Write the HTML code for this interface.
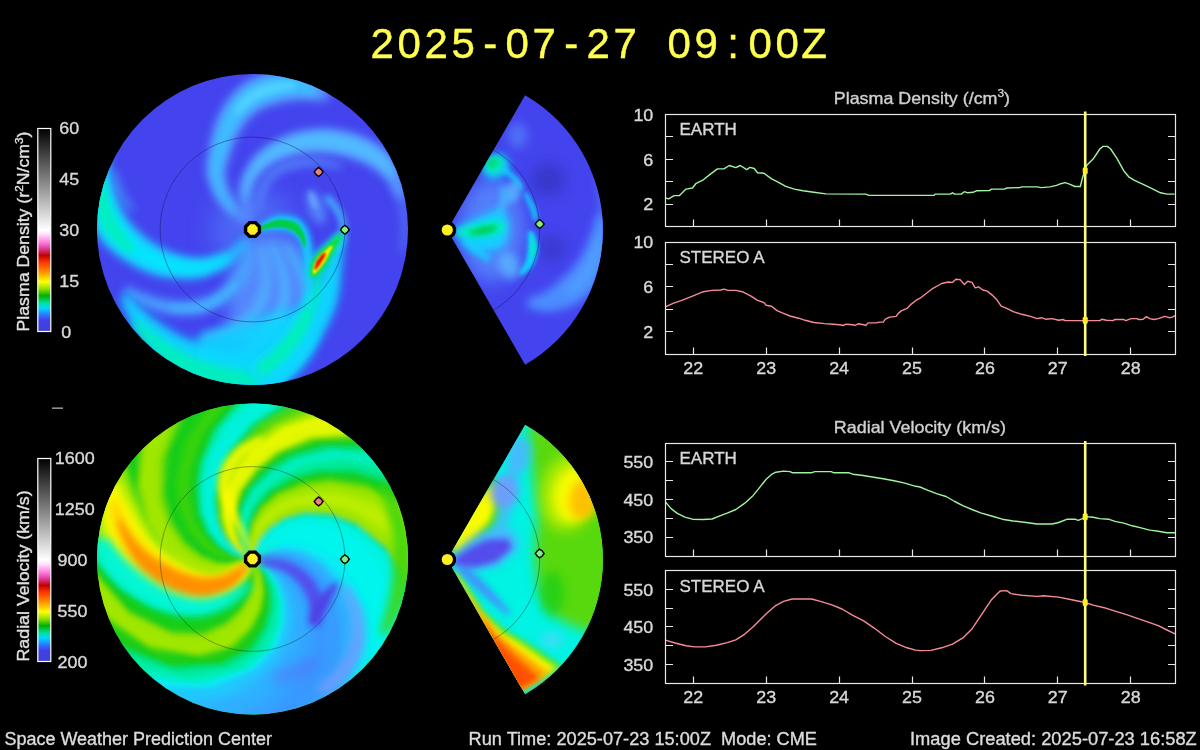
<!DOCTYPE html>
<html><head><meta charset="utf-8"><title>WSA-Enlil Solar Wind Prediction</title>
<style>html,body{margin:0;padding:0;background:#000;}body{width:1200px;height:750px;overflow:hidden;}svg{display:block;}text{font-family:"Liberation Sans", sans-serif;stroke-width:0.35px;opacity:0.999;}.ttl text{stroke-width:0.45px;}</style>
</head><body>
<svg width="1200" height="750" viewBox="0 0 1200 750">
<rect width="1200" height="750" fill="#000"/>
<defs>
<linearGradient id="cb" x1="0" y1="1" x2="0" y2="0">
<stop offset="0.0%" stop-color="#4040d8"/>
<stop offset="5.4%" stop-color="#4040e8"/>
<stop offset="8.0%" stop-color="#3070ff"/>
<stop offset="11.5%" stop-color="#00d8ff"/>
<stop offset="14.0%" stop-color="#00e0a0"/>
<stop offset="17.6%" stop-color="#00b000"/>
<stop offset="21.0%" stop-color="#90e000"/>
<stop offset="24.5%" stop-color="#ffff00"/>
<stop offset="29.4%" stop-color="#ff9000"/>
<stop offset="34.0%" stop-color="#ff3800"/>
<stop offset="37.5%" stop-color="#c00000"/>
<stop offset="41.0%" stop-color="#e040a0"/>
<stop offset="44.0%" stop-color="#ff80e0"/>
<stop offset="48.0%" stop-color="#ffe0ff"/>
<stop offset="50.0%" stop-color="#ffffff"/>
<stop offset="100.0%" stop-color="#000000"/>
</linearGradient>
</defs>
<defs><filter id="b1" filterUnits="userSpaceOnUse" x="80" y="60" width="540" height="670"><feGaussianBlur stdDeviation="1"/></filter><filter id="b2" filterUnits="userSpaceOnUse" x="80" y="60" width="540" height="670"><feGaussianBlur stdDeviation="2"/></filter><filter id="b3" filterUnits="userSpaceOnUse" x="80" y="60" width="540" height="670"><feGaussianBlur stdDeviation="3"/></filter><filter id="b4" filterUnits="userSpaceOnUse" x="80" y="60" width="540" height="670"><feGaussianBlur stdDeviation="4"/></filter><filter id="b5" filterUnits="userSpaceOnUse" x="80" y="60" width="540" height="670"><feGaussianBlur stdDeviation="5"/></filter><filter id="b6" filterUnits="userSpaceOnUse" x="80" y="60" width="540" height="670"><feGaussianBlur stdDeviation="6"/></filter><filter id="b7" filterUnits="userSpaceOnUse" x="80" y="60" width="540" height="670"><feGaussianBlur stdDeviation="7"/></filter><filter id="b8" filterUnits="userSpaceOnUse" x="80" y="60" width="540" height="670"><feGaussianBlur stdDeviation="8"/></filter><filter id="b9" filterUnits="userSpaceOnUse" x="80" y="60" width="540" height="670"><feGaussianBlur stdDeviation="9"/></filter><filter id="b10" filterUnits="userSpaceOnUse" x="80" y="60" width="540" height="670"><feGaussianBlur stdDeviation="10"/></filter><filter id="b11" filterUnits="userSpaceOnUse" x="80" y="60" width="540" height="670"><feGaussianBlur stdDeviation="11"/></filter><filter id="b12" filterUnits="userSpaceOnUse" x="80" y="60" width="540" height="670"><feGaussianBlur stdDeviation="12"/></filter><filter id="b13" filterUnits="userSpaceOnUse" x="80" y="60" width="540" height="670"><feGaussianBlur stdDeviation="13"/></filter><filter id="b14" filterUnits="userSpaceOnUse" x="80" y="60" width="540" height="670"><feGaussianBlur stdDeviation="14"/></filter><filter id="b15" filterUnits="userSpaceOnUse" x="80" y="60" width="540" height="670"><feGaussianBlur stdDeviation="15"/></filter><filter id="b16" filterUnits="userSpaceOnUse" x="80" y="60" width="540" height="670"><feGaussianBlur stdDeviation="16"/></filter></defs><clipPath id="cd"><circle cx="252.5" cy="229.5" r="155.5"/></clipPath><g clip-path="url(#cd)"><rect x="90" y="70" width="330" height="330" fill="#4444ee"/><circle cx="252.5" cy="229.5" r="42" fill="#5a9aff" opacity="0.4" filter="url(#b12)"/><path d="M249.8 220.3 L248.6 218.9 L246.8 217.1 L244.8 215.2 L242.6 213.0 L240.6 210.7 L238.7 208.2 L236.8 205.5 L234.8 202.4 L232.7 199.2 L230.9 195.9 L229.3 192.7 L228.2 189.6 L227.2 186.5 L226.4 183.3 L225.7 180.0 L225.4 176.8 L225.2 173.7 L225.4 170.9 L225.7 168.4 L226.4 165.6 L227.3 162.6 L228.4 159.4 L229.6 156.0 L230.8 152.5 L231.8 149.3 L232.8 146.4 L233.8 143.7 L234.9 141.1 L236.0 138.7 L237.2 136.2 L238.7 133.5 L240.2 130.8 L241.8 128.2 L243.4 125.7 L245.1 123.4 L246.8 121.3 L248.8 119.1 L250.9 117.0 L253.0 115.0 L255.1 113.2 L257.2 111.7 L259.3 110.5 L261.5 109.2 L264.1 108.0 L266.8 106.9 L269.7 105.9 L272.7 105.0 L275.7 104.2 L278.8 103.3 L282.1 102.4 L285.4 101.8 L288.6 101.2 L291.5 100.9 L294.1 100.8 L296.6 100.2 L299.6 99.9 L302.9 99.9 L306.3 100.1 L309.7 100.4 L312.7 100.6 L315.2 100.5 L317.6 100.6 L320.0 100.8 L322.2 101.0 L324.3 101.2 L326.2 101.1 L330.0 95.2 L329.5 93.6 L328.7 91.7 L327.4 89.5 L325.5 87.0 L323.1 84.5 L320.4 82.1 L317.5 80.0 L314.2 77.8 L310.4 75.6 L306.2 73.4 L301.5 71.4 L296.4 69.9 L291.2 69.6 L286.1 69.7 L281.1 70.0 L276.3 70.6 L271.5 71.5 L266.9 72.4 L262.5 74.0 L258.1 75.7 L253.8 77.6 L249.6 79.8 L245.5 82.3 L241.6 85.0 L237.9 88.1 L234.6 91.4 L231.5 94.7 L228.9 98.1 L226.4 101.5 L224.1 104.9 L222.0 108.5 L220.0 112.3 L218.2 116.0 L216.7 119.6 L215.4 123.2 L214.1 126.7 L213.0 130.2 L212.1 133.7 L211.3 137.2 L210.6 140.5 L210.0 143.8 L209.5 147.0 L208.9 150.3 L208.1 153.9 L207.3 157.8 L206.7 162.1 L206.3 166.6 L206.4 171.3 L207.0 175.8 L208.0 180.1 L209.3 184.3 L210.8 188.4 L212.6 192.3 L214.7 196.1 L217.1 199.9 L219.9 203.4 L222.8 206.7 L225.7 209.8 L228.6 212.6 L231.4 215.1 L234.3 217.4 L237.4 219.4 L240.3 221.2 L242.9 222.6 L245.2 223.6 L246.8 224.3Z" fill="#5a9aff" opacity="0.97" filter="url(#b5)"/><path d="M236.6 210.4 L235.2 208.2 L233.2 205.3 L230.8 201.9 L228.3 198.3 L226.1 194.7 L224.5 191.3 L223.4 188.0 L222.4 184.6 L221.6 181.1 L221.1 177.6 L220.8 174.2 L220.9 171.0 L221.1 168.0 L221.8 164.8 L222.7 161.5 L223.7 158.2 L224.9 154.7 L225.9 151.3 L226.9 148.1 L227.9 145.1 L228.8 142.2 L229.8 139.5 L230.9 136.8 L232.2 134.1 L233.6 131.3 L235.2 128.4 L236.9 125.7 L238.6 123.0 L240.4 120.5 L242.4 118.1 L244.5 115.7 L246.7 113.4 L249.0 111.2 L251.3 109.2 L253.7 107.5 L256.1 105.9 L258.7 104.4 L261.5 103.0 L264.5 101.6 L267.6 100.4 L270.9 99.4 L274.1 98.5 L277.5 97.4 L281.0 96.4 L284.5 95.6 L288.1 94.9 L291.5 94.5 L294.5 94.3 L297.6 94.0 L301.3 94.1 L305.3 94.6 L309.1 95.1 L312.6 95.5 L315.2 95.6 L318.0 87.1 L316.0 85.6 L313.1 83.8 L309.5 81.7 L305.3 79.7 L300.7 77.8 L296.0 76.4 L291.2 76.0 L286.6 76.0 L282.0 76.2 L277.4 76.7 L272.9 77.4 L268.5 78.2 L264.4 79.6 L260.2 81.1 L256.2 82.9 L252.2 84.9 L248.4 87.1 L244.7 89.5 L241.4 92.4 L238.3 95.4 L235.5 98.5 L233.0 101.7 L230.7 104.9 L228.6 108.1 L226.6 111.5 L224.8 115.0 L223.1 118.5 L221.7 122.0 L220.4 125.4 L219.2 128.8 L218.1 132.1 L217.1 135.4 L216.3 138.6 L215.6 141.8 L215.0 145.0 L214.3 148.3 L213.6 151.6 L212.8 155.2 L212.0 159.0 L211.3 162.9 L210.8 167.0 L210.9 171.2 L211.4 175.3 L212.3 179.3 L213.4 183.2 L214.8 187.1 L216.4 190.8 L218.3 194.4 L220.6 198.1 L223.4 201.8 L226.4 205.3 L229.3 208.5 L231.7 211.1 L233.5 212.9Z" fill="#38c4ff" opacity="0.90" filter="url(#b4)"/><path d="M237.7 115.1 L239.6 113.5 L241.9 111.3 L244.6 108.7 L247.5 106.0 L250.5 103.6 L253.3 101.8 L256.1 100.0 L259.1 98.4 L262.3 96.8 L265.7 95.4 L269.2 94.2 L272.6 93.2 L276.3 92.0 L280.5 91.1 L285.0 90.2 L289.2 89.6 L292.9 88.9 L295.5 88.3 L294.9 82.4 L292.3 82.3 L288.6 82.2 L284.2 82.3 L279.4 82.5 L274.6 82.9 L270.1 83.5 L266.0 84.7 L262.1 86.1 L258.3 87.7 L254.6 89.5 L251.0 91.4 L247.5 93.7 L244.3 96.6 L241.4 99.9 L238.7 103.3 L236.4 106.5 L234.5 109.2 L233.3 111.1Z" fill="#60e0ff" opacity="0.60" filter="url(#b3)"/><path d="M253.2 220.3 L252.8 217.6 L251.9 214.0 L250.9 209.8 L250.0 205.5 L249.4 201.3 L249.4 197.8 L249.8 194.6 L250.5 191.5 L251.4 188.4 L252.6 185.4 L254.1 182.5 L255.8 179.7 L257.8 176.9 L260.0 174.3 L262.5 171.7 L265.2 169.3 L268.1 167.1 L271.2 165.1 L274.7 163.1 L278.5 161.1 L282.7 159.3 L287.0 157.7 L291.4 156.3 L295.7 155.2 L300.2 154.3 L304.9 153.6 L309.8 153.2 L314.6 153.0 L319.5 153.0 L324.1 153.3 L328.8 153.7 L333.7 154.3 L338.7 155.2 L343.5 156.3 L348.2 157.6 L352.5 159.0 L356.5 160.3 L360.3 161.8 L364.0 163.5 L367.5 165.3 L370.8 167.2 L373.7 169.0 L376.3 170.6 L378.6 172.2 L380.7 173.9 L382.7 175.9 L384.8 178.1 L386.7 180.5 L388.8 183.2 L390.9 186.6 L393.0 190.3 L394.9 194.0 L396.6 197.1 L398.1 199.3 L405.7 196.7 L405.5 194.1 L405.0 190.6 L404.3 186.4 L403.4 181.8 L402.2 177.2 L400.8 172.9 L399.2 169.2 L397.6 165.7 L395.6 162.2 L393.3 158.7 L390.6 155.2 L387.4 151.9 L383.8 148.8 L379.9 145.9 L375.6 143.0 L370.9 140.3 L366.0 137.7 L360.9 135.4 L355.4 133.7 L349.7 132.1 L343.7 130.7 L337.6 129.6 L331.4 128.8 L325.2 128.3 L319.1 128.5 L313.0 129.0 L306.9 129.9 L301.0 131.0 L295.2 132.4 L289.6 134.1 L284.2 136.2 L278.9 138.7 L273.8 141.4 L269.0 144.3 L264.5 147.4 L260.4 150.7 L256.7 154.3 L253.4 158.0 L250.6 161.8 L248.1 165.8 L246.0 169.7 L244.2 173.7 L242.7 177.6 L241.6 181.7 L240.7 185.8 L240.3 189.9 L240.1 194.0 L240.4 198.2 L241.2 202.7 L242.6 207.3 L244.2 211.9 L245.9 216.0 L247.4 219.4 L248.5 221.8Z" fill="#5a9aff" opacity="0.97" filter="url(#b5)"/><path d="M246.8 198.4 L247.5 196.0 L248.3 192.8 L249.2 189.0 L250.2 185.1 L251.5 181.4 L253.1 178.2 L255.1 175.3 L257.3 172.3 L259.8 169.5 L262.6 166.8 L265.5 164.2 L268.8 161.9 L272.5 159.7 L276.5 157.7 L280.9 155.7 L285.4 154.0 L290.0 152.5 L294.6 151.4 L299.3 150.4 L304.2 149.5 L309.2 149.0 L314.3 148.6 L319.4 148.6 L324.3 148.8 L329.3 149.1 L334.4 149.7 L339.6 150.6 L344.7 151.6 L349.6 152.9 L354.2 154.3 L358.4 155.7 L362.5 157.3 L366.5 159.1 L370.2 161.1 L373.7 163.1 L376.7 165.1 L379.6 167.0 L382.4 169.4 L385.0 172.1 L387.5 174.6 L389.6 176.9 L391.4 178.4 L396.2 174.9 L395.3 172.9 L394.0 170.1 L392.3 166.7 L390.1 163.1 L387.5 159.3 L384.4 155.8 L380.9 152.9 L377.2 150.1 L373.1 147.3 L368.7 144.7 L364.1 142.3 L359.2 140.2 L354.0 138.4 L348.5 136.8 L342.7 135.4 L336.8 134.2 L330.9 133.3 L325.0 132.8 L319.1 132.9 L313.3 133.4 L307.4 134.1 L301.7 135.1 L296.1 136.4 L290.7 137.9 L285.5 140.0 L280.4 142.4 L275.5 145.0 L270.9 147.8 L266.7 150.8 L262.8 153.9 L259.2 157.1 L256.1 160.5 L253.3 164.1 L250.8 167.7 L248.7 171.4 L246.9 175.1 L245.4 179.3 L244.4 183.7 L243.8 188.0 L243.3 192.0 L243.1 195.3 L242.9 197.6Z" fill="#50c4ff" opacity="0.85" filter="url(#b4)"/><path d="M390.1 178.2 L390.9 180.6 L392.1 183.8 L393.5 187.4 L394.9 191.4 L396.1 195.4 L397.0 199.2 L398.0 202.9 L398.9 206.8 L399.6 210.8 L400.2 214.9 L400.6 219.2 L400.9 223.6 L401.1 228.5 L401.0 234.1 L400.8 239.8 L400.5 245.3 L400.3 249.9 L400.3 253.3 L404.3 253.7 L405.0 250.4 L405.8 245.9 L406.8 240.4 L407.7 234.6 L408.4 228.9 L408.9 223.6 L408.9 218.9 L408.8 214.2 L408.5 209.7 L408.1 205.3 L407.5 201.0 L406.7 196.8 L405.3 192.5 L403.6 188.1 L401.8 184.0 L400.1 180.3 L398.6 177.3 L397.5 175.1Z" fill="#5a9aff" opacity="0.45" filter="url(#b4)"/><path d="M259.2 213.3 L259.9 210.5 L260.7 206.7 L261.7 202.3 L262.8 197.7 L264.1 193.5 L265.6 190.0 L267.3 187.0 L269.2 184.2 L271.3 181.6 L273.6 179.2 L276.0 177.1 L278.6 175.2 L281.3 173.6 L284.5 172.1 L287.9 170.8 L291.5 169.6 L295.2 168.7 L298.7 167.8 L302.1 167.1 L305.3 166.6 L308.6 166.3 L312.0 166.1 L315.4 166.1 L318.8 166.1 L322.6 166.2 L326.8 166.6 L331.1 167.1 L335.2 167.7 L338.8 168.2 L341.3 168.4 L342.2 164.5 L339.8 163.6 L336.4 162.5 L332.4 161.3 L328.0 160.1 L323.6 159.0 L319.4 158.2 L315.6 157.9 L311.9 157.8 L308.2 157.8 L304.4 158.0 L300.7 158.4 L296.9 159.0 L293.0 159.9 L289.0 161.0 L285.0 162.3 L280.9 163.8 L277.0 165.6 L273.5 167.9 L270.3 170.5 L267.5 173.4 L265.0 176.6 L262.8 179.9 L260.9 183.5 L259.2 187.2 L257.9 191.6 L256.9 196.5 L256.2 201.4 L255.8 206.0 L255.5 209.9 L255.3 212.6Z" fill="#5a9aff" opacity="0.70" filter="url(#b4)"/><path d="M254.3 238.5 C261.0 238.9 284.8 235.3 294.8 240.7 C304.8 246.0 312.2 259.2 314.0 270.5 C315.8 281.9 312.2 296.8 305.5 308.9 C298.7 321.0 285.9 339.5 273.5 343.1 C261.0 346.6 237.9 342.4 230.8 330.3 C223.7 318.2 230.8 280.5 230.8 270.5Z" fill="#5a9aff" opacity="0.80" filter="url(#b8)"/><path d="M247.5 240.5 L246.9 242.8 L246.3 246.0 L245.6 249.7 L244.8 253.6 L243.8 257.3 L242.5 260.6 L241.1 263.8 L239.4 267.1 L237.6 270.4 L235.6 273.5 L233.4 276.4 L231.2 279.0 L228.8 281.6 L226.2 284.2 L223.3 286.6 L220.3 288.9 L217.2 291.0 L214.1 292.9 L211.2 294.6 L208.2 296.1 L205.2 297.3 L202.1 298.4 L198.9 299.3 L195.4 299.9 L191.8 300.5 L187.8 300.9 L183.7 301.1 L179.4 301.1 L175.2 300.8 L171.1 300.4 L166.9 299.8 L162.5 298.9 L158.1 297.8 L153.7 296.5 L149.5 295.2 L145.7 293.8 L142.0 292.7 L138.3 291.2 L134.7 289.7 L131.4 288.2 L128.5 286.9 L126.2 286.1 L123.1 291.2 L124.7 292.8 L127.1 294.9 L130.0 297.3 L133.4 299.9 L137.1 302.5 L141.0 304.8 L145.1 306.7 L149.5 308.5 L154.2 310.2 L159.1 311.8 L164.0 313.2 L168.9 314.3 L173.8 314.9 L178.7 315.4 L183.7 315.6 L188.5 315.5 L193.3 315.3 L197.9 314.7 L202.3 313.9 L206.5 312.7 L210.5 311.3 L214.4 309.7 L218.2 307.9 L221.9 305.8 L225.5 303.3 L229.1 300.6 L232.7 297.7 L236.1 294.5 L239.3 291.2 L242.2 287.7 L244.6 283.8 L246.6 279.7 L248.4 275.6 L249.9 271.5 L251.1 267.4 L252.1 263.4 L252.8 259.1 L253.0 254.6 L253.1 250.3 L252.9 246.4 L252.7 243.2 L252.5 240.9Z" fill="#48a4ff" opacity="0.92" filter="url(#b4)"/><path d="M235.0 281.5 L232.8 283.2 L230.0 285.7 L226.6 288.6 L223.1 291.6 L219.5 294.3 L216.1 296.4 L213.0 298.1 L209.8 299.7 L206.6 301.1 L203.2 302.2 L199.8 303.1 L196.2 303.9 L192.0 304.5 L187.2 304.8 L182.1 304.8 L177.2 304.8 L173.1 304.8 L170.1 304.8 L169.9 309.8 L172.9 310.1 L177.0 310.5 L181.9 310.8 L187.2 311.1 L192.4 311.1 L197.2 310.8 L201.4 310.0 L205.3 308.9 L209.1 307.6 L212.7 306.1 L216.3 304.3 L219.9 302.3 L223.5 299.6 L227.2 296.4 L230.7 293.0 L233.9 289.8 L236.5 287.1 L238.4 285.2Z" fill="#40c8ff" opacity="0.50" filter="url(#b3)"/><path d="M258.7 243.8 L259.1 246.8 L259.8 250.9 L260.6 255.7 L261.3 260.8 L261.9 265.8 L262.0 270.3 L261.9 274.6 L261.6 278.9 L261.1 283.3 L260.4 287.4 L259.4 291.3 L258.1 294.9 L256.6 298.4 L254.8 301.7 L252.8 305.0 L250.5 308.0 L248.0 310.8 L245.4 313.4 L242.8 315.8 L239.9 317.9 L236.8 320.0 L233.4 321.9 L229.8 323.7 L226.2 325.3 L222.2 327.1 L217.5 328.8 L212.6 330.3 L207.8 331.7 L203.7 333.0 L200.8 334.0 L203.2 343.6 L206.2 343.2 L210.4 342.4 L215.4 341.5 L220.8 340.3 L226.2 338.9 L231.1 337.3 L235.4 335.4 L239.5 333.4 L243.5 331.1 L247.4 328.6 L251.1 325.8 L254.6 322.6 L257.6 319.1 L260.4 315.3 L262.9 311.4 L265.1 307.2 L267.0 302.9 L268.6 298.4 L269.6 293.7 L270.3 288.9 L270.6 284.1 L270.6 279.2 L270.4 274.5 L270.0 269.7 L269.1 264.7 L267.9 259.5 L266.4 254.3 L264.9 249.6 L263.6 245.7 L262.6 242.9Z" fill="#50b0ff" opacity="0.88" filter="url(#b4)"/><path d="M269.5 244.1 L270.5 247.2 L272.0 251.3 L273.7 256.2 L275.5 261.4 L277.1 266.4 L278.1 271.0 L279.0 275.3 L279.6 279.7 L280.0 284.0 L280.2 288.2 L280.1 292.3 L279.7 296.1 L279.0 299.9 L277.9 303.6 L276.6 307.2 L275.1 310.8 L273.3 314.4 L271.4 317.8 L269.4 321.3 L267.2 324.8 L264.7 328.2 L262.1 331.6 L259.3 334.7 L256.5 337.7 L253.4 340.7 L249.7 343.8 L245.8 346.8 L242.0 349.6 L238.8 352.1 L236.5 353.9 L242.2 362.1 L244.6 360.6 L248.1 358.4 L252.2 355.8 L256.6 352.8 L260.9 349.6 L264.8 346.3 L268.2 342.8 L271.3 339.2 L274.3 335.4 L277.1 331.5 L279.7 327.5 L282.0 323.5 L283.9 319.4 L285.6 315.1 L287.0 310.8 L288.2 306.4 L289.1 301.8 L289.6 297.2 L289.8 292.5 L289.5 287.7 L289.0 283.0 L288.2 278.3 L287.1 273.6 L285.9 269.0 L284.0 264.1 L281.7 258.9 L279.3 253.8 L276.8 249.2 L274.7 245.3 L273.2 242.5Z" fill="#48b8ff" opacity="0.88" filter="url(#b4)"/><path d="M283.4 244.1 L285.0 247.3 L287.4 251.6 L290.2 256.7 L293.1 262.0 L295.6 267.1 L297.5 271.5 L298.9 275.2 L300.0 278.6 L300.8 281.7 L301.3 284.7 L301.5 287.9 L301.5 291.3 L301.3 295.1 L300.7 299.2 L299.8 303.5 L298.8 307.9 L297.4 312.2 L296.0 316.3 L294.4 320.2 L292.6 324.1 L290.6 327.9 L288.4 331.7 L286.0 335.3 L283.4 338.9 L280.4 342.7 L276.7 346.8 L272.7 350.9 L268.9 354.7 L265.6 358.0 L263.2 360.4 L268.8 366.2 L271.3 364.1 L274.8 361.1 L278.9 357.4 L283.3 353.4 L287.6 349.2 L291.3 345.1 L294.2 341.0 L296.9 336.9 L299.4 332.8 L301.6 328.5 L303.6 324.2 L305.4 319.7 L306.8 315.1 L308.1 310.3 L309.2 305.5 L309.9 300.6 L310.4 295.9 L310.5 291.4 L310.2 287.2 L309.5 283.3 L308.5 279.6 L307.3 276.1 L305.7 272.4 L303.8 268.5 L301.2 264.0 L298.0 259.1 L294.5 254.0 L291.0 249.3 L288.1 245.3 L285.9 242.5Z" fill="#40c4ff" opacity="0.85" filter="url(#b4)"/><path d="M245.2 238.1 L242.8 239.8 L239.8 242.3 L236.4 245.3 L232.7 248.2 L229.0 250.8 L225.4 252.7 L221.7 254.1 L217.5 255.4 L213.1 256.6 L208.6 257.4 L204.3 258.0 L200.3 258.2 L196.7 258.1 L192.9 257.8 L189.0 257.2 L185.0 256.4 L181.1 255.4 L177.3 254.4 L173.9 253.5 L170.9 252.5 L168.1 251.3 L165.4 250.1 L162.6 248.7 L159.8 247.1 L156.8 245.4 L153.8 243.5 L150.7 241.4 L147.6 239.2 L144.7 236.9 L141.9 234.6 L139.2 232.3 L136.7 229.9 L134.4 227.6 L132.4 225.3 L130.6 223.0 L128.9 220.7 L127.2 218.4 L125.5 215.9 L124.0 213.3 L122.5 210.6 L121.2 207.8 L120.0 204.8 L118.5 201.6 L117.1 198.2 L115.9 194.7 L114.7 191.1 L113.8 187.4 L113.0 183.8 L112.0 180.3 L111.1 176.5 L110.4 172.6 L109.8 168.6 L109.5 164.5 L109.2 160.6 L109.1 156.5 L109.4 151.8 L109.9 147.0 L110.5 142.4 L110.9 138.3 L110.9 135.3 L103.3 132.7 L101.4 135.0 L99.2 138.3 L96.7 142.5 L94.1 147.1 L91.7 152.0 L89.6 156.9 L88.0 161.6 L86.6 166.4 L85.4 171.3 L84.4 176.3 L83.7 181.4 L83.2 186.6 L83.4 191.7 L84.0 196.9 L84.7 202.1 L85.7 207.1 L86.8 212.0 L88.2 216.8 L90.0 221.4 L92.1 225.8 L94.3 230.0 L96.8 234.1 L99.4 238.0 L102.3 241.9 L105.6 245.4 L109.1 248.7 L112.6 251.7 L116.2 254.5 L119.8 257.1 L123.4 259.5 L127.3 262.0 L131.3 264.4 L135.4 266.7 L139.7 268.8 L144.0 270.9 L148.2 272.6 L152.4 274.0 L156.5 275.2 L160.6 276.2 L164.8 277.0 L169.0 277.7 L173.3 278.1 L177.8 278.4 L182.5 278.6 L187.4 278.6 L192.6 278.5 L197.9 277.9 L203.2 276.9 L208.4 275.3 L213.4 273.4 L218.4 271.1 L223.2 268.6 L227.7 265.8 L231.9 262.8 L235.8 259.2 L239.5 255.2 L242.6 251.1 L245.3 247.2 L247.4 243.9 L248.8 241.5Z" fill="#20c8ff" opacity="0.97" filter="url(#b5)"/><path d="M227.5 255.0 L224.4 255.8 L220.2 257.2 L215.3 258.8 L210.1 260.3 L205.2 261.5 L200.9 262.1 L196.9 262.2 L192.8 262.0 L188.7 261.4 L184.5 260.7 L180.5 259.8 L176.6 258.9 L173.0 258.0 L169.8 257.0 L166.7 255.9 L163.8 254.7 L160.8 253.3 L157.7 251.7 L154.5 250.0 L151.3 248.0 L148.0 245.9 L144.7 243.7 L141.6 241.4 L138.6 239.0 L135.8 236.7 L133.1 234.3 L130.6 231.9 L128.3 229.5 L126.1 227.0 L124.2 224.4 L122.3 221.8 L120.4 219.1 L118.7 216.3 L117.1 213.3 L115.7 210.2 L114.4 206.9 L112.8 203.5 L111.4 199.9 L110.0 196.1 L108.9 192.2 L107.9 188.3 L107.1 184.5 L106.2 180.5 L105.5 175.8 L105.1 170.9 L104.8 166.2 L104.4 162.1 L103.9 159.1 L94.9 158.4 L93.9 161.2 L92.8 165.1 L91.6 169.9 L90.6 175.1 L89.7 180.6 L89.1 185.9 L89.4 190.9 L89.9 195.8 L90.6 200.7 L91.5 205.5 L92.5 210.2 L93.8 214.7 L95.5 219.0 L97.5 223.1 L99.6 227.1 L101.9 230.9 L104.3 234.6 L107.0 238.1 L110.0 241.4 L113.2 244.5 L116.5 247.4 L119.8 250.1 L123.2 252.7 L126.7 255.1 L130.4 257.5 L134.2 259.9 L138.2 262.2 L142.2 264.3 L146.3 266.3 L150.3 268.1 L154.2 269.5 L158.1 270.7 L162.0 271.7 L165.9 272.5 L169.9 273.2 L174.1 273.7 L178.4 274.0 L183.0 274.3 L187.7 274.4 L192.7 274.3 L197.7 273.9 L202.7 273.0 L207.9 271.3 L213.3 269.1 L218.5 266.7 L223.2 264.2 L227.1 262.1 L229.8 260.5Z" fill="#00e8ff" opacity="0.90" filter="url(#b4)"/><path d="M135.5 248.5 L133.6 245.7 L130.6 242.0 L127.2 237.8 L123.8 233.3 L120.7 228.8 L118.5 224.7 L116.4 220.8 L114.4 216.5 L112.5 212.0 L110.9 207.4 L109.6 202.7 L108.4 198.4 L106.9 194.3 L105.6 189.8 L104.6 185.2 L103.7 180.8 L102.9 177.1 L102.0 174.3 L95.0 174.8 L94.6 177.5 L94.1 181.3 L93.6 185.9 L93.4 191.1 L93.4 196.5 L93.8 201.8 L95.1 206.9 L96.7 212.0 L98.5 217.2 L100.6 222.5 L103.0 227.7 L105.9 232.7 L109.8 237.4 L114.4 241.8 L119.0 245.8 L123.4 249.4 L127.1 252.2 L129.8 254.1Z" fill="#00f0b8" opacity="0.92" filter="url(#b4)"/><path d="M134.7 209.3 L133.3 207.2 L131.3 204.2 L129.0 200.8 L126.7 197.1 L124.6 193.5 L123.1 190.2 L121.6 186.9 L120.3 183.1 L119.2 179.2 L118.2 175.4 L117.4 172.2 L116.7 169.9 L112.8 170.7 L113.0 173.0 L113.3 176.3 L113.8 180.3 L114.5 184.6 L115.4 188.9 L116.7 193.0 L118.8 196.8 L121.4 200.6 L124.1 204.3 L126.8 207.6 L129.0 210.3 L130.6 212.3Z" fill="#40b8ff" opacity="0.60" filter="url(#b4)"/><path d="M120.1 297.6 L121.6 302.2 L124.1 308.3 L127.4 315.5 L131.3 323.2 L135.6 331.0 L140.3 338.2 L145.3 344.4 L150.6 350.4 L156.3 356.4 L162.5 362.1 L169.3 367.7 L176.6 372.9 L184.7 377.0 L193.2 380.7 L202.0 384.0 L211.1 386.9 L220.4 389.4 L230.1 391.2 L240.6 391.7 L251.4 391.3 L261.7 390.4 L271.0 389.3 L278.5 388.3 L283.8 387.6 L281.3 353.7 L275.6 353.8 L267.9 354.1 L259.3 354.5 L250.3 354.7 L241.9 354.4 L234.9 353.5 L228.1 352.5 L220.9 350.9 L213.6 348.9 L206.4 346.5 L199.5 343.8 L193.1 340.9 L186.8 338.6 L180.7 335.8 L174.7 332.6 L168.8 329.1 L162.9 325.2 L157.4 321.3 L151.5 317.2 L145.5 312.2 L139.5 306.7 L133.9 301.4 L129.0 297.0 L125.0 294.1Z" fill="#10d8ff" opacity="0.97" filter="url(#b5)"/><path d="M196.7 337.9 C202.4 336.4 214.4 333.0 230.8 328.6 C247.2 324.1 280.9 308.6 294.8 311.1 C308.7 313.5 316.8 331.0 314.0 343.1 C311.2 355.2 297.3 376.8 277.7 383.6 C258.2 390.4 210.2 383.6 196.7 383.6Z" fill="#10d8ff" opacity="0.90" filter="url(#b6)"/><path d="M132.1 324.2 L135.5 328.9 L140.4 335.2 L146.4 342.6 L153.2 350.4 L160.6 357.9 L168.1 364.5 L176.2 369.4 L184.5 373.7 L193.1 377.6 L201.8 381.0 L210.5 383.8 L219.3 386.3 L228.6 387.3 L238.3 387.6 L247.7 387.4 L256.2 386.9 L263.2 386.4 L268.2 385.9 L268.4 371.9 L263.2 371.4 L256.1 370.9 L248.0 370.4 L239.3 369.7 L231.0 368.5 L223.4 366.7 L215.9 364.9 L208.1 362.6 L200.2 359.9 L192.3 356.7 L184.8 353.2 L177.9 349.4 L170.4 345.3 L162.6 339.9 L154.7 333.9 L147.4 328.1 L141.1 323.2 L136.3 319.9Z" fill="#00f0b8" opacity="0.92" filter="url(#b4)"/><path d="M339.8 233.8 L338.0 236.7 L336.0 240.9 L333.7 245.8 L331.3 251.3 L328.8 256.8 L326.3 262.1 L323.9 267.3 L321.5 272.7 L319.0 278.1 L316.5 283.3 L313.9 288.1 L311.0 292.7 L308.1 297.3 L304.8 302.1 L301.3 306.8 L297.6 311.6 L293.7 316.3 L289.8 320.9 L286.3 325.6 L282.6 330.3 L278.8 334.8 L275.0 339.1 L271.2 343.2 L267.7 346.8 L264.2 350.3 L260.1 354.0 L255.8 357.7 L251.7 361.1 L248.0 364.1 L245.3 366.5 L267.5 394.8 L270.2 392.9 L274.0 390.2 L278.8 386.7 L284.0 382.7 L289.5 378.2 L294.6 373.5 L299.1 368.5 L303.4 363.3 L307.6 358.0 L311.7 352.5 L315.7 347.0 L319.4 341.4 L322.6 335.5 L325.7 329.4 L328.8 323.2 L331.7 316.9 L334.3 310.4 L336.7 303.8 L338.3 297.1 L339.4 290.4 L340.3 283.9 L340.8 277.7 L341.3 271.9 L341.8 266.2 L342.3 260.4 L342.9 254.3 L343.4 248.3 L343.7 242.8 L343.8 238.2 L343.7 234.8Z" fill="#10d8ff" opacity="0.97" filter="url(#b4)"/><path d="M318.4 263.8 L317.2 267.4 L315.8 272.6 L314.1 278.7 L312.3 285.1 L310.4 291.3 L308.4 296.8 L306.4 301.8 L304.3 306.7 L302.0 311.4 L299.6 316.0 L297.0 320.4 L294.3 324.6 L291.6 328.9 L288.6 333.1 L285.4 337.2 L282.1 341.2 L278.7 345.0 L275.4 348.5 L271.9 351.9 L268.0 355.4 L263.9 358.8 L260.0 361.9 L256.7 364.5 L254.2 366.6 L262.8 377.6 L265.3 375.8 L268.7 373.3 L272.9 370.2 L277.4 366.7 L281.9 362.9 L286.1 359.0 L289.8 354.9 L293.3 350.6 L296.9 346.1 L300.2 341.4 L303.4 336.6 L306.4 331.7 L308.8 326.6 L311.1 321.4 L313.0 316.1 L314.8 310.7 L316.5 305.3 L317.9 299.7 L319.1 293.5 L320.2 286.8 L321.0 280.0 L321.7 273.7 L322.1 268.4 L322.4 264.5Z" fill="#00f0b8" opacity="0.90" filter="url(#b3)"/><path d="M259.4 231.1 L261.8 231.0 L265.0 230.6 L268.6 230.0 L272.3 229.5 L275.7 229.4 L278.4 229.7 L280.8 229.8 L283.5 230.1 L286.0 230.6 L288.3 231.3 L290.1 232.1 L291.4 233.0 L292.8 233.5 L294.2 234.3 L295.6 235.5 L297.1 237.2 L298.5 239.2 L299.8 241.6 L300.9 244.3 L301.8 247.5 L302.5 251.0 L303.2 254.8 L303.8 258.7 L304.5 262.4 L304.9 265.9 L305.3 269.3 L305.6 272.7 L305.9 276.1 L306.1 279.6 L306.2 283.3 L306.2 287.5 L306.1 292.3 L305.9 297.3 L305.7 301.9 L305.5 305.9 L305.5 308.8 L311.4 309.1 L311.7 306.3 L312.0 302.3 L312.4 297.7 L312.8 292.7 L313.1 287.8 L313.2 283.4 L313.3 279.5 L313.2 275.8 L313.1 272.2 L313.0 268.7 L312.7 265.2 L312.4 261.6 L312.3 257.8 L312.2 253.9 L312.0 249.8 L311.6 245.8 L311.1 241.8 L310.3 238.1 L309.4 234.6 L308.3 231.3 L306.9 228.1 L305.1 225.0 L302.8 222.0 L299.9 219.4 L296.2 217.7 L292.4 216.5 L288.6 215.8 L284.8 215.5 L281.0 215.5 L277.1 215.8 L273.1 217.2 L269.1 219.0 L265.4 221.0 L262.1 223.1 L259.5 224.9 L257.7 226.4Z" fill="#10d8ff" opacity="0.95" filter="url(#b3)"/><path d="M259.4 230.2 L261.6 229.9 L264.7 229.3 L268.2 228.6 L271.8 228.0 L275.2 227.6 L278.1 227.6 L280.6 227.6 L283.2 227.9 L285.7 228.3 L288.1 228.9 L290.1 229.7 L291.7 230.5 L293.2 231.1 L294.7 232.2 L296.3 233.5 L297.7 235.1 L299.0 236.8 L300.2 238.3 L301.1 239.8 L301.9 241.4 L302.5 243.1 L303.0 244.7 L303.4 246.1 L303.9 247.2 L305.4 247.0 L305.5 245.9 L305.6 244.4 L305.7 242.6 L305.6 240.5 L305.3 238.3 L304.7 236.2 L304.0 234.1 L303.1 231.8 L301.9 229.4 L300.4 227.0 L298.5 224.7 L296.2 222.7 L293.3 221.4 L290.4 220.5 L287.2 219.9 L284.0 219.6 L280.7 219.5 L277.4 219.6 L273.9 220.5 L270.2 221.8 L266.5 223.3 L263.2 224.9 L260.4 226.2 L258.5 227.3Z" fill="#00cc48" opacity="1.00" filter="url(#b1)"/><ellipse cx="316.0" cy="207.0" rx="8.0" ry="18.0" transform="rotate(-20.0 316.0 207.0)" fill="#5aa0ff" opacity="0.70" filter="url(#b4)"/><ellipse cx="313.0" cy="200.0" rx="3.5" ry="10.0" transform="rotate(-20.0 313.0 200.0)" fill="#78bcff" opacity="0.50" filter="url(#b2)"/><path d="M328.0 198.0 C329.7 200.2 335.5 206.7 338.0 211.0 C340.5 215.3 342.3 219.7 343.0 224.0 C343.7 228.3 343.0 233.0 342.0 237.0 C341.0 241.0 337.8 246.2 337.0 248.0" fill="none" stroke="#40d0ff" stroke-width="6.0" stroke-linecap="round" stroke-linejoin="round" opacity="0.85" filter="url(#b3)"/><path d="M314.2 279.9 L315.5 279.0 L316.9 277.8 L318.5 276.3 L320.1 274.7 L321.7 273.3 L323.2 272.1 L324.1 270.9 L325.0 269.7 L325.9 268.6 L326.8 267.4 L327.8 266.2 L328.9 265.0 L329.6 263.5 L330.3 262.1 L331.2 260.6 L332.0 259.0 L332.9 257.5 L333.8 255.9 L334.6 254.4 L335.3 252.9 L336.1 251.4 L336.9 249.8 L337.7 248.2 L338.6 246.6 L339.5 244.8 L340.5 242.9 L341.5 240.9 L342.5 239.0 L343.2 237.4 L343.7 236.1 L338.9 232.4 L337.8 233.1 L336.4 234.3 L334.8 235.6 L333.2 237.1 L331.5 238.5 L329.9 239.8 L328.6 241.0 L327.3 242.1 L325.9 243.3 L324.6 244.4 L323.3 245.6 L321.9 246.7 L320.7 248.0 L319.4 249.3 L318.0 250.6 L316.7 251.9 L315.4 253.3 L314.1 254.7 L313.2 256.3 L312.3 257.9 L311.5 259.5 L310.7 261.1 L309.9 262.8 L309.1 264.7 L308.8 267.0 L308.6 269.4 L308.4 271.8 L308.4 274.1 L308.4 276.0 L308.7 277.4Z" fill="#00e8e0" opacity="1.00" filter="url(#b3)"/><path d="M313.7 277.9 L314.7 277.2 L315.9 276.1 L317.1 274.7 L318.4 273.3 L319.7 272.0 L321.0 270.9 L321.9 269.7 L322.8 268.5 L323.7 267.3 L324.7 266.1 L325.7 264.8 L326.8 263.6 L327.5 262.1 L328.3 260.6 L329.2 259.1 L330.1 257.5 L330.9 255.9 L331.8 254.4 L332.6 252.8 L333.4 251.3 L334.2 249.7 L335.0 248.2 L335.8 246.6 L336.6 245.1 L337.5 243.5 L338.6 241.9 L339.6 240.2 L340.6 238.6 L341.3 237.3 L341.8 236.3 L339.5 234.4 L338.6 235.1 L337.5 236.1 L336.1 237.4 L334.7 238.7 L333.3 240.1 L331.9 241.4 L330.6 242.5 L329.3 243.6 L327.9 244.8 L326.6 245.9 L325.3 247.1 L323.9 248.3 L322.6 249.5 L321.3 250.8 L320.0 252.1 L318.7 253.4 L317.4 254.8 L316.1 256.2 L315.3 257.7 L314.4 259.3 L313.6 260.9 L312.8 262.5 L312.0 264.2 L311.2 265.9 L311.0 267.9 L310.8 270.0 L310.6 272.1 L310.6 274.0 L310.7 275.6 L310.9 276.8Z" fill="#10dc20" opacity="1.00" filter="url(#b2)"/><path d="M314.5 274.2 L315.2 273.5 L316.1 272.6 L317.1 271.4 L318.2 270.2 L319.2 269.0 L320.2 268.0 L321.0 266.9 L321.8 265.7 L322.7 264.6 L323.6 263.4 L324.5 262.2 L325.4 261.1 L326.0 259.8 L326.6 258.5 L327.3 257.3 L327.9 256.0 L328.6 254.7 L329.2 253.5 L329.9 252.3 L330.6 251.0 L331.3 249.7 L332.0 248.5 L332.6 247.4 L332.9 246.6 L331.4 245.4 L330.6 245.8 L329.7 246.6 L328.7 247.4 L327.5 248.4 L326.4 249.4 L325.3 250.4 L324.2 251.4 L323.1 252.3 L322.1 253.3 L321.0 254.4 L319.9 255.4 L318.8 256.5 L318.0 257.8 L317.2 259.1 L316.4 260.4 L315.6 261.8 L314.9 263.1 L314.2 264.5 L313.7 266.2 L313.4 267.9 L313.0 269.5 L312.8 271.0 L312.7 272.3 L312.7 273.3Z" fill="#ffee00" opacity="1.00" filter="url(#b1)"/><path d="M315.7 269.8 L316.3 269.2 L317.0 268.3 L317.8 267.3 L318.6 266.2 L319.4 265.1 L320.2 264.2 L320.8 263.1 L321.5 262.0 L322.2 260.9 L322.9 259.8 L323.6 258.7 L324.2 257.8 L324.6 256.9 L324.9 256.0 L325.2 255.3 L325.4 254.6 L325.6 254.0 L325.7 253.5 L324.5 252.6 L324.1 252.8 L323.5 253.2 L323.0 253.7 L322.3 254.2 L321.6 254.8 L320.9 255.5 L320.2 256.4 L319.5 257.4 L318.7 258.5 L317.9 259.6 L317.1 260.8 L316.3 261.9 L315.9 263.3 L315.4 264.7 L315.0 266.0 L314.7 267.3 L314.5 268.3 L314.4 269.1Z" fill="#e81000" opacity="1.00" filter="url(#b1)"/><circle cx="252.5" cy="229.5" r="92.4" fill="none" stroke="#101050" stroke-width="0.7" opacity="0.6"/></g><polygon points="261.1,233.1 256.1,238.1 248.9,238.1 243.9,233.1 243.9,225.9 248.9,220.9 256.1,220.9 261.1,225.9" fill="#000"/><polygon points="257.7,231.6 254.6,234.7 250.4,234.7 247.3,231.6 247.3,227.4 250.4,224.3 254.6,224.3 257.7,227.4" fill="#ffee20"/><polygon points="350.2,229.7 347.9,232.7 344.9,235.0 341.9,232.7 339.6,229.7 341.9,226.7 344.9,224.4 347.9,226.7" fill="#000"/><polygon points="348.4,229.7 346.9,231.7 344.9,233.2 342.9,231.7 341.4,229.7 342.9,227.7 344.9,226.2 346.9,227.7" fill="#80f080"/><polygon points="323.9,171.9 321.6,174.9 318.6,177.2 315.6,174.9 313.3,171.9 315.6,168.9 318.6,166.6 321.6,168.9" fill="#000"/><polygon points="322.1,171.9 320.6,173.9 318.6,175.4 316.6,173.9 315.1,171.9 316.6,169.9 318.6,168.4 320.6,169.9" fill="#f08078"/>
<clipPath id="cv"><circle cx="252.5" cy="559.0" r="155.5"/></clipPath><g clip-path="url(#cv)"><rect x="90" y="400" width="330" height="330" fill="#20d840"/><g filter="url(#b2)"><path d="M252.5 559.0 L259.5 551.9 L269.6 545.2 L283.3 540.4 L300.7 539.4 L320.9 544.3 L342.5 557.5 L360.8 578.5 L375.7 614.3 L378.4 657.8 L384.6 649.2 L379.1 606.0 L361.8 571.3 L342.2 551.6 L319.8 539.8 L299.3 536.2 L282.0 538.4 L268.7 544.1 L259.0 551.4 L252.5 559.0Z" fill="#00f5ec"/><path d="M252.5 559.0 L259.1 551.5 L268.9 544.3 L282.3 538.8 L299.6 536.9 L320.1 540.8 L342.3 552.8 L361.6 572.8 L378.4 607.8 L383.4 651.1 L389.2 642.2 L381.3 599.3 L362.3 565.6 L341.7 546.9 L318.7 536.3 L298.0 533.8 L280.9 536.9 L267.9 543.3 L258.6 551.1 L252.5 559.0Z" fill="#00f5ec"/><path d="M252.5 559.0 L258.7 551.2 L268.1 543.5 L281.2 537.3 L298.4 534.5 L319.0 537.3 L341.8 548.1 L362.2 567.1 L380.8 601.1 L388.0 644.1 L393.3 634.9 L383.3 592.5 L362.5 559.8 L340.9 542.2 L317.4 532.9 L296.6 531.5 L279.7 535.4 L267.0 542.5 L258.2 550.8 L252.5 559.0Z" fill="#00f5ec"/><path d="M252.5 559.0 L258.3 550.9 L267.3 542.7 L280.0 535.8 L297.0 532.1 L317.8 533.8 L341.1 543.5 L362.5 561.3 L382.8 594.3 L392.3 636.9 L397.1 627.4 L384.8 585.6 L362.4 554.1 L339.9 537.6 L316.0 529.5 L295.1 529.2 L278.5 534.0 L266.1 541.7 L257.7 550.5 L252.5 559.0Z" fill="#00f5ec"/><path d="M252.5 559.0 L257.9 550.6 L266.4 541.9 L278.8 534.4 L295.5 529.8 L316.4 530.4 L340.2 538.8 L362.4 555.6 L384.5 587.5 L396.2 629.5 L400.5 619.8 L386.1 578.7 L362.0 548.3 L338.7 533.1 L314.4 526.2 L293.5 527.0 L277.1 532.7 L265.2 541.0 L257.3 550.2 L252.5 559.0Z" fill="#00f5ec"/><path d="M252.5 559.0 L257.4 550.3 L265.5 541.2 L277.5 533.1 L293.9 527.6 L314.8 527.1 L339.0 534.3 L362.1 549.8 L385.8 580.5 L399.6 621.8 L403.5 612.0 L386.9 571.6 L361.3 542.6 L337.2 528.6 L312.6 523.1 L291.8 524.9 L275.7 531.5 L264.3 540.4 L256.8 550.0 L252.5 559.0Z" fill="#00f4eb"/><path d="M252.5 559.0 L256.9 550.0 L264.5 540.6 L276.1 531.8 L292.2 525.5 L313.1 523.9 L337.6 529.8 L361.5 544.1 L386.7 573.5 L402.7 614.1 L406.0 604.0 L387.4 564.6 L360.3 536.9 L335.5 524.2 L310.6 520.0 L289.9 522.9 L274.2 530.3 L263.3 539.8 L256.3 549.8 L252.5 559.0Z" fill="#00f4e5"/><path d="M252.5 559.0 L256.5 549.8 L263.5 540.0 L274.6 530.6 L290.4 523.4 L311.1 520.8 L336.0 525.4 L360.6 538.4 L387.3 566.5 L405.4 606.1 L408.2 595.9 L387.5 557.5 L359.0 531.3 L333.6 519.9 L308.5 517.0 L288.0 521.0 L272.7 529.2 L262.3 539.3 L255.9 549.6 L252.5 559.0Z" fill="#00f3de"/><path d="M252.5 559.0 L256.0 549.6 L262.5 539.4 L273.1 529.5 L288.5 521.5 L309.1 517.8 L334.1 521.1 L359.3 532.8 L387.5 559.4 L407.7 598.0 L409.7 589.0 L387.3 551.2 L357.4 526.0 L331.4 515.7 L306.1 513.9 L285.8 519.0 L270.9 528.1 L261.0 538.7 L255.3 549.4 L252.5 559.0Z" fill="#00f2d9"/><path d="M252.5 559.0 L255.5 549.4 L261.4 538.9 L271.4 528.4 L286.4 519.6 L306.8 514.8 L332.0 516.8 L357.8 527.3 L387.4 552.7 L409.4 590.4 L410.7 583.2 L386.8 545.4 L355.7 521.0 L329.0 511.6 L303.4 510.9 L283.2 517.0 L268.8 526.9 L259.6 538.2 L254.5 549.2 L252.5 559.0Z" fill="#08d84e"/><path d="M252.5 559.0 L254.7 549.3 L260.0 538.3 L269.3 527.2 L283.9 517.5 L304.1 511.7 L329.7 512.7 L356.2 522.4 L387.0 547.2 L410.4 585.1 L411.8 573.8 L385.8 537.8 L353.5 515.4 L326.4 507.6 L300.5 508.1 L280.5 515.2 L266.6 525.9 L258.1 537.7 L253.8 549.1 L252.5 559.0Z" fill="#97e400"/><path d="M252.5 559.0 L254.0 549.1 L258.5 537.8 L267.2 526.1 L281.2 515.6 L301.3 508.8 L327.1 508.6 L354.1 516.9 L386.1 539.9 L411.5 576.4 L412.4 563.6 L384.3 530.0 L351.0 509.9 L323.6 503.8 L297.6 505.4 L277.9 513.6 L264.5 525.1 L256.7 537.4 L253.2 549.0 L252.5 559.0Z" fill="#a2e700"/><path d="M252.5 559.0 L253.3 549.0 L257.1 537.5 L265.1 525.3 L278.6 514.0 L298.4 506.1 L324.3 504.8 L351.7 511.4 L384.8 532.1 L412.3 566.3 L412.4 553.4 L382.4 522.1 L348.1 504.6 L320.6 500.1 L294.5 503.0 L275.1 512.2 L262.4 524.4 L255.3 537.2 L252.5 549.0 L252.5 559.0Z" fill="#b2eb00"/><path d="M252.5 559.0 L252.7 549.0 L255.7 537.2 L263.0 524.6 L275.9 512.5 L295.3 503.6 L321.4 501.1 L348.9 506.0 L382.9 524.2 L412.5 556.1 L411.6 542.2 L379.8 514.0 L344.8 499.2 L317.4 496.6 L291.3 500.8 L272.4 511.0 L260.4 523.9 L254.0 537.1 L251.9 549.0 L252.5 559.0Z" fill="#bcee00"/><path d="M252.5 559.0 L252.0 549.0 L254.3 537.1 L260.9 524.0 L273.1 511.3 L292.2 501.3 L318.2 497.5 L345.7 500.6 L380.6 516.3 L411.9 545.4 L410.0 530.7 L376.6 505.8 L341.2 494.0 L314.0 493.3 L288.2 498.8 L269.9 510.0 L258.5 523.5 L252.9 537.0 L251.4 549.1 L252.5 559.0Z" fill="#b8ed00"/><path d="M252.5 559.0 L251.5 549.0 L253.2 537.0 L259.0 523.6 L270.6 510.2 L289.1 499.3 L314.9 494.2 L342.2 495.3 L377.4 507.8 L410.4 533.4 L408.3 522.5 L373.6 499.4 L337.7 489.4 L310.5 490.2 L285.0 497.0 L267.3 509.2 L256.7 523.2 L251.7 537.0 L250.9 549.1 L252.5 559.0Z" fill="#aae900"/><path d="M252.5 559.0 L251.0 549.1 L252.0 537.0 L257.2 523.3 L268.0 509.4 L285.9 497.5 L311.4 491.0 L338.7 490.6 L374.4 501.1 L408.8 524.7 L406.2 514.4 L370.3 493.1 L333.9 485.1 L306.8 487.2 L281.8 495.4 L264.7 508.4 L254.8 523.1 L250.6 537.1 L250.3 549.2 L252.5 559.0Z" fill="#9ee600"/><path d="M252.5 559.0 L250.5 549.2 L250.9 537.1 L255.3 523.1 L265.4 508.6 L282.6 495.8 L307.8 488.0 L335.0 486.2 L371.2 494.8 L406.8 516.5 L403.6 506.4 L366.7 487.0 L330.0 480.9 L303.0 484.5 L278.4 494.0 L262.0 507.9 L252.9 523.0 L249.4 537.2 L249.8 549.4 L252.5 559.0Z" fill="#91e301"/><path d="M252.5 559.0 L250.0 549.3 L249.7 537.2 L253.4 523.0 L262.7 508.0 L279.3 494.3 L304.0 485.2 L331.0 482.0 L367.7 488.6 L404.3 508.5 L400.7 498.6 L362.8 481.2 L325.8 477.0 L299.0 481.9 L275.0 492.7 L259.3 507.5 L251.0 523.0 L248.3 537.4 L249.3 549.5 L252.5 559.0Z" fill="#4ad70c"/><path d="M252.5 559.0 L249.5 549.5 L248.6 537.4 L251.5 523.0 L260.1 507.6 L275.9 493.0 L300.1 482.6 L326.9 478.0 L363.9 482.7 L401.5 500.6 L396.9 490.0 L358.3 475.1 L321.2 473.1 L294.9 479.6 L271.6 491.7 L256.9 507.2 L249.3 523.1 L247.3 537.6 L248.9 549.7 L252.5 559.0Z" fill="#13cd15"/><path d="M252.5 559.0 L249.0 549.6 L247.5 537.6 L249.7 523.1 L257.4 507.2 L272.5 491.9 L296.0 480.2 L322.5 474.2 L359.6 476.8 L398.0 492.5 L392.0 480.7 L353.0 468.8 L316.3 469.4 L290.8 477.5 L268.4 490.8 L254.6 507.0 L247.9 523.3 L246.6 537.8 L248.6 549.8 L252.5 559.0Z" fill="#0ad43a"/><path d="M252.5 559.0 L248.7 549.8 L246.8 537.8 L248.3 523.2 L255.2 507.1 L269.3 491.0 L291.9 478.1 L317.7 470.4 L354.4 470.5 L393.4 483.2 L386.8 472.0 L347.4 463.0 L311.3 466.0 L286.5 475.7 L265.1 490.2 L252.3 507.0 L246.5 523.5 L245.7 538.1 L248.3 549.9 L252.5 559.0Z" fill="#02e68a"/><path d="M252.5 559.0 L248.4 549.9 L246.0 538.0 L246.9 523.4 L253.0 507.0 L266.1 490.3 L287.6 476.1 L312.6 466.9 L348.9 464.4 L388.1 474.1 L382.0 465.1 L342.3 458.2 L306.3 463.1 L282.1 474.0 L261.5 489.6 L249.6 507.1 L244.6 523.9 L244.7 538.4 L247.8 550.2 L252.5 559.0Z" fill="#00eb9f"/><path d="M252.5 559.0 L247.9 550.1 L244.9 538.3 L245.1 523.8 L250.3 507.0 L262.5 489.7 L283.3 474.4 L307.7 463.8 L343.7 459.4 L383.3 466.9 L376.9 458.4 L336.9 453.6 L301.3 460.4 L277.6 472.6 L257.9 489.2 L246.9 507.3 L242.8 524.3 L243.6 538.9 L247.4 550.4 L252.5 559.0Z" fill="#00eeb7"/><path d="M252.5 559.0 L247.5 550.4 L243.9 538.8 L243.3 524.2 L247.6 507.2 L258.8 489.3 L278.8 472.9 L302.6 461.1 L338.3 454.8 L378.3 460.2 L372.3 452.9 L331.7 449.7 L296.2 458.1 L273.0 471.4 L254.0 489.0 L243.9 507.7 L240.8 525.0 L242.4 539.5 L246.8 550.8 L252.5 559.0Z" fill="#00efc2"/><path d="M252.5 559.0 L247.0 550.7 L242.7 539.3 L241.3 524.8 L244.7 507.6 L255.1 489.0 L274.2 471.7 L297.6 458.7 L333.1 450.7 L373.5 454.3 L367.6 447.9 L326.6 446.1 L291.1 456.0 L268.4 470.4 L250.1 489.0 L240.9 508.3 L238.7 525.8 L241.2 540.2 L246.3 551.2 L252.5 559.0Z" fill="#02e790"/><path d="M252.5 559.0 L246.4 551.0 L241.5 540.0 L239.2 525.5 L241.7 508.1 L251.1 489.0 L269.6 470.6 L292.5 456.5 L328.0 447.1 L368.9 449.2 L362.7 443.0 L321.2 442.8 L285.9 454.2 L263.7 469.7 L246.2 489.3 L237.9 509.1 L236.7 526.7 L240.0 540.9 L245.8 551.6 L252.5 559.0Z" fill="#09d644"/><path d="M252.5 559.0 L245.9 551.5 L240.3 540.7 L237.2 526.4 L238.7 508.9 L247.2 489.2 L264.9 469.9 L287.3 454.7 L322.7 443.7 L364.0 444.3 L357.1 437.9 L315.4 439.6 L280.5 452.6 L259.0 469.2 L242.4 489.7 L235.2 510.0 L234.8 527.6 L238.9 541.7 L245.4 552.0 L252.5 559.0Z" fill="#10cc16"/><path d="M252.5 559.0 L245.5 551.9 L239.2 541.5 L235.3 527.4 L235.9 509.7 L243.4 489.6 L260.2 469.3 L282.0 453.0 L317.1 440.5 L358.8 439.4 L350.6 432.6 L309.1 436.4 L274.9 451.3 L254.2 469.0 L238.8 490.4 L232.6 510.9 L233.2 528.6 L238.1 542.4 L245.0 552.4 L252.5 559.0Z" fill="#64db08"/><path d="M252.5 559.0 L245.1 552.3 L238.3 542.2 L233.7 528.3 L233.3 510.7 L239.8 490.2 L255.5 469.1 L276.4 451.6 L310.8 437.2 L352.3 434.0 L343.8 427.6 L302.6 433.6 L269.3 450.3 L249.5 469.0 L235.2 491.2 L230.2 512.0 L231.7 529.6 L237.2 543.2 L244.7 552.8 L252.5 559.0Z" fill="#dbf600"/><path d="M252.5 559.0 L244.8 552.7 L237.4 543.0 L232.1 529.4 L230.8 511.7 L236.2 490.9 L250.8 469.0 L270.8 450.5 L304.4 434.4 L345.7 428.9 L336.8 423.0 L296.0 431.2 L263.6 449.6 L244.8 469.3 L231.7 492.2 L227.7 513.3 L230.2 530.8 L236.4 544.0 L244.4 553.2 L252.5 559.0Z" fill="#e1f700"/><path d="M252.5 559.0 L244.4 553.1 L236.6 543.8 L230.5 530.5 L228.4 512.9 L232.6 491.9 L246.1 469.2 L265.1 449.7 L297.8 431.8 L338.7 424.2 L329.6 418.8 L289.2 429.1 L257.8 449.1 L240.1 469.9 L228.2 493.3 L225.4 514.6 L228.7 532.0 L235.6 544.9 L244.1 553.6 L252.5 559.0Z" fill="#e5f800"/><path d="M252.5 559.0 L244.1 553.5 L235.8 544.6 L229.1 531.7 L226.0 514.3 L229.1 493.0 L241.4 469.7 L259.3 449.2 L291.0 429.6 L331.6 419.9 L320.8 414.3 L281.6 427.2 L251.8 449.0 L235.5 470.6 L225.1 494.6 L223.4 515.9 L227.6 533.0 L235.1 545.6 L243.9 554.0 L252.5 559.0Z" fill="#e6f900"/><path d="M252.5 559.0 L243.9 553.9 L235.2 545.4 L227.8 532.8 L223.9 515.6 L225.9 494.3 L236.8 470.4 L253.4 449.0 L283.7 427.7 L323.3 415.5 L311.5 410.3 L273.7 425.7 L245.7 449.2 L231.0 471.6 L222.0 496.0 L221.5 517.3 L226.5 534.1 L234.6 546.2 L243.7 554.3 L252.5 559.0Z" fill="#b1eb00"/><path d="M252.5 559.0 L243.7 554.2 L234.7 546.1 L226.8 533.8 L222.0 516.9 L222.8 495.6 L232.2 471.3 L247.3 449.1 L275.8 426.0 L314.0 411.3 L301.9 406.8 L265.7 424.7 L239.6 449.8 L226.5 472.8 L219.0 497.5 L219.7 518.7 L225.5 535.2 L234.1 546.9 L243.5 554.6 L252.5 559.0Z" fill="#67dc08"/><path d="M252.5 559.0 L243.6 554.5 L234.2 546.8 L225.8 534.9 L220.2 518.3 L219.8 497.1 L227.7 472.5 L241.3 449.6 L267.9 424.9 L304.4 407.7 L292.3 404.0 L257.8 424.1 L233.7 450.6 L222.0 474.3 L216.1 499.2 L217.9 520.2 L224.5 536.3 L233.6 547.7 L243.4 554.9 L252.5 559.0Z" fill="#47d60d"/><path d="M252.5 559.0 L243.4 554.8 L233.8 547.5 L224.8 536.0 L218.4 519.8 L216.9 498.7 L223.2 473.9 L235.2 450.4 L259.9 424.2 L294.8 404.7 L282.5 401.8 L249.9 424.0 L227.7 451.8 L217.7 476.0 L213.3 501.0 L216.2 521.8 L223.6 537.5 L233.2 548.4 L243.2 555.3 L252.5 559.0Z" fill="#08d94e"/><path d="M252.5 559.0 L243.3 555.2 L233.3 548.2 L223.8 537.2 L216.6 521.4 L214.0 500.5 L218.8 475.5 L229.3 451.5 L252.0 424.0 L285.1 402.4 L272.8 400.3 L242.1 424.4 L221.9 453.3 L213.4 477.9 L210.5 503.0 L214.5 523.5 L222.7 538.8 L232.8 549.2 L243.1 555.6 L252.5 559.0Z" fill="#00f1cc"/><path d="M252.5 559.0 L243.1 555.5 L232.9 549.0 L223.0 538.4 L215.0 523.0 L211.2 502.5 L214.5 477.4 L223.4 452.9 L244.1 424.3 L275.2 400.6 L264.5 399.4 L235.0 425.1 L216.4 455.1 L209.2 480.1 L207.6 505.3 L212.7 525.5 L221.7 540.4 L232.3 550.3 L242.9 556.1 L252.5 559.0Z" fill="#00f3e1"/><path d="M252.5 559.0 L243.0 556.0 L232.4 550.0 L221.9 540.0 L213.2 525.0 L208.4 504.7 L210.3 479.5 L217.9 454.6 L236.9 424.9 L266.7 399.6 L256.1 399.0 L228.1 426.2 L211.0 457.1 L205.2 482.5 L204.8 507.7 L211.0 527.7 L220.8 542.0 L231.9 551.4 L242.8 556.6 L252.5 559.0Z" fill="#00f2d9"/><path d="M252.5 559.0 L242.8 556.5 L232.0 551.1 L221.0 541.6 L211.4 527.1 L205.6 507.1 L206.2 481.8 L212.5 456.5 L229.9 425.9 L258.3 399.1 L247.7 399.1 L221.1 427.7 L205.8 459.4 L201.2 485.0 L202.2 510.3 L209.4 529.9 L219.9 543.7 L231.5 552.5 L242.7 557.2 L252.5 559.0Z" fill="#00f1d3"/><path d="M252.5 559.0 L242.7 557.0 L231.6 552.2 L220.1 543.3 L209.8 529.3 L202.9 509.6 L202.3 484.3 L207.1 458.8 L223.0 427.3 L250.0 399.0 L240.9 399.4 L215.1 429.3 L200.9 461.9 L197.4 487.8 L199.7 513.0 L208.0 532.2 L219.2 545.4 L231.2 553.6 L242.6 557.7 L252.5 559.0Z" fill="#00eca5"/><path d="M252.5 559.0 L242.6 557.5 L231.3 553.3 L219.3 545.0 L208.3 531.6 L200.4 512.3 L198.4 487.1 L202.1 461.2 L216.5 428.9 L242.3 399.3 L235.9 399.9 L210.1 430.8 L196.4 464.4 L193.8 490.8 L197.4 515.8 L206.6 534.5 L218.5 547.2 L230.9 554.7 L242.5 558.2 L252.5 559.0Z" fill="#0ad53f"/><path d="M252.5 559.0 L242.5 558.1 L231.0 554.4 L218.7 546.7 L207.0 533.9 L198.0 515.0 L194.7 490.0 L197.5 463.7 L211.4 430.4 L237.3 399.7 L231.0 400.5 L205.1 432.6 L192.0 467.1 L190.3 494.0 L195.2 518.8 L205.4 537.0 L217.9 549.0 L230.7 555.8 L242.5 558.7 L252.5 559.0Z" fill="#12cd15"/><path d="M252.5 559.0 L242.5 558.6 L230.8 555.5 L218.1 548.5 L205.7 536.3 L195.8 518.0 L191.2 493.1 L193.1 466.4 L206.4 432.1 L232.3 400.3 L226.0 401.2 L200.2 434.5 L187.8 470.1 L187.0 497.3 L193.2 521.8 L204.3 539.5 L217.4 550.8 L230.6 557.0 L242.5 559.2 L252.5 559.0Z" fill="#22cf13"/><path d="M252.5 559.0 L242.5 559.1 L230.6 556.7 L217.6 550.3 L204.6 538.8 L193.7 521.0 L187.8 496.4 L188.9 469.3 L201.5 434.0 L227.3 401.0 L221.1 402.1 L195.4 436.7 L183.7 473.2 L183.8 500.8 L191.3 525.0 L203.3 542.0 L217.1 552.7 L230.5 558.1 L242.5 559.8 L252.5 559.0Z" fill="#36d30f"/><path d="M252.5 559.0 L242.5 559.6 L230.5 557.8 L217.2 552.2 L203.6 541.3 L191.8 524.1 L184.6 499.9 L184.7 472.4 L196.7 436.1 L222.4 401.9 L214.7 403.5 L189.9 439.4 L179.5 476.7 L180.9 504.5 L189.6 528.2 L202.5 544.6 L216.8 554.5 L230.5 559.3 L242.6 560.3 L252.5 559.0Z" fill="#38d30f"/><path d="M252.5 559.0 L242.6 560.1 L230.5 559.0 L216.8 554.0 L202.7 543.9 L190.1 527.3 L181.6 503.5 L180.7 475.7 L191.6 438.5 L216.9 403.0 L206.6 405.7 L183.7 442.8 L175.3 480.6 L178.1 508.3 L188.1 531.5 L201.8 547.3 L216.6 556.4 L230.5 560.4 L242.7 560.8 L252.5 559.0Z" fill="#2dd111"/><path d="M252.5 559.0 L242.6 560.7 L230.5 560.1 L216.6 555.9 L202.0 546.5 L188.5 530.6 L178.8 507.3 L176.4 479.6 L185.4 441.9 L208.7 405.1 L198.6 408.3 L177.7 446.6 L171.3 484.8 L175.6 512.3 L186.8 534.9 L201.3 549.9 L216.5 558.3 L230.6 561.6 L242.8 561.3 L252.5 559.0Z" fill="#1ecf13"/><path d="M252.5 559.0 L242.7 561.2 L230.6 561.3 L216.5 557.8 L201.4 549.2 L187.1 534.0 L176.2 511.2 L172.3 483.7 L179.3 445.6 L200.7 407.6 L190.8 411.4 L172.0 450.7 L167.5 489.1 L173.2 516.4 L185.6 538.4 L200.9 552.6 L216.5 560.2 L230.8 562.7 L242.9 561.8 L252.5 559.0Z" fill="#13cd15"/><path d="M252.5 559.0 L242.9 561.7 L230.8 562.4 L216.5 559.7 L201.0 551.9 L185.9 537.5 L173.8 515.3 L168.5 488.0 L173.5 449.5 L192.9 410.5 L183.2 414.8 L166.4 455.0 L164.0 493.7 L171.1 520.6 L184.6 541.9 L200.6 555.3 L216.6 562.1 L231.0 563.8 L243.1 562.3 L252.5 559.0Z" fill="#1ace14"/><path d="M252.5 559.0 L243.0 562.2 L231.0 563.5 L216.6 561.6 L200.7 554.6 L184.9 541.0 L171.7 519.5 L164.9 492.5 L167.9 453.8 L185.2 413.8 L175.7 418.6 L161.1 459.7 L160.7 498.4 L169.2 524.9 L183.8 545.5 L200.5 558.0 L216.8 563.9 L231.3 564.9 L243.3 562.8 L252.5 559.0Z" fill="#4dd70c"/><path d="M252.5 559.0 L243.2 562.7 L231.2 564.7 L216.8 563.4 L200.5 557.3 L184.0 544.6 L169.7 523.7 L161.5 497.1 L162.5 458.4 L177.7 417.6 L168.5 422.8 L156.0 464.6 L157.6 503.3 L167.5 529.3 L183.2 549.1 L200.5 560.8 L217.1 565.8 L231.7 566.0 L243.5 563.3 L252.5 559.0Z" fill="#88e102"/><path d="M252.5 559.0 L243.4 563.2 L231.6 565.8 L217.1 565.3 L200.5 560.0 L183.3 548.2 L168.0 528.1 L158.4 502.0 L157.3 463.3 L170.4 421.7 L161.5 427.4 L151.2 469.8 L154.9 508.3 L166.1 533.8 L182.8 552.8 L200.7 563.5 L217.6 567.6 L232.1 567.1 L243.7 563.8 L252.5 559.0Z" fill="#9de600"/><path d="M252.5 559.0 L243.6 563.6 L231.9 566.8 L217.4 567.1 L200.6 562.8 L182.9 551.8 L166.5 532.6 L155.6 507.0 L152.5 468.4 L163.3 426.2 L154.7 432.4 L146.7 475.2 L152.3 513.5 L164.9 538.4 L182.5 556.4 L201.0 566.2 L218.1 569.5 L232.5 568.2 L244.0 564.2 L252.5 559.0Z" fill="#9fe600"/><path d="M252.5 559.0 L243.9 564.1 L232.4 567.9 L217.9 569.0 L200.9 565.5 L182.6 555.5 L165.2 537.1 L153.0 512.1 L147.8 473.7 L156.5 431.0 L148.2 437.7 L142.4 480.8 L150.1 518.8 L163.9 543.0 L182.5 560.1 L201.4 568.9 L218.6 571.2 L233.0 569.2 L244.2 564.6 L252.5 559.0Z" fill="#a2e700"/><path d="M252.5 559.0 L244.2 564.5 L232.9 568.9 L218.5 570.8 L201.3 568.2 L182.5 559.1 L164.2 541.7 L150.7 517.4 L143.5 479.3 L149.9 436.2 L142.0 443.3 L138.5 486.7 L148.1 524.2 L163.2 547.6 L182.7 563.8 L202.0 571.5 L219.3 573.0 L233.6 570.2 L244.6 565.1 L252.5 559.0Z" fill="#97e400"/><path d="M252.5 559.0 L244.5 565.0 L233.4 570.0 L219.1 572.5 L201.9 570.8 L182.6 562.8 L163.4 546.4 L148.6 522.8 L139.5 485.1 L143.6 441.7 L136.1 449.2 L134.9 492.8 L146.5 529.7 L162.7 552.3 L183.0 567.4 L202.8 574.2 L220.1 574.7 L234.2 571.2 L244.9 565.5 L252.5 559.0Z" fill="#4dd70c"/><path d="M252.5 559.0 L244.8 565.4 L234.0 570.9 L219.9 574.3 L202.6 573.5 L182.9 566.4 L162.9 551.1 L146.9 528.3 L135.8 491.1 L137.7 447.6 L130.5 455.5 L131.6 499.0 L145.1 535.3 L162.5 557.0 L183.5 571.0 L203.6 576.7 L221.0 576.4 L234.9 572.1 L245.2 565.9 L252.5 559.0Z" fill="#13cd15"/><path d="M252.5 559.0 L245.1 565.8 L234.7 571.9 L220.7 575.9 L203.4 576.1 L183.4 570.1 L162.6 555.8 L145.4 533.8 L132.4 497.3 L132.0 453.8 L125.3 462.0 L128.6 505.4 L144.0 541.0 L162.5 561.7 L184.3 574.6 L204.6 579.3 L221.9 578.0 L235.6 573.0 L245.6 566.2 L252.5 559.0Z" fill="#17ce14"/><path d="M252.5 559.0 L245.5 566.1 L235.4 572.8 L221.7 577.6 L204.3 578.6 L184.1 573.7 L162.5 560.5 L144.2 539.5 L129.3 503.7 L126.6 460.2 L120.4 468.8 L125.9 512.0 L143.2 546.7 L162.8 566.4 L185.2 578.2 L205.7 581.8 L223.0 579.6 L236.3 573.9 L246.0 566.6 L252.5 559.0Z" fill="#29d112"/><path d="M252.5 559.0 L245.9 566.5 L236.1 573.7 L222.7 579.2 L205.4 581.1 L184.9 577.2 L162.7 565.2 L143.4 545.2 L126.6 510.2 L121.6 466.9 L115.8 475.8 L123.7 518.7 L142.7 552.4 L163.3 571.1 L186.3 581.7 L207.0 584.2 L224.1 581.1 L237.1 574.7 L246.4 566.9 L252.5 559.0Z" fill="#37d30f"/><path d="M252.5 559.0 L246.3 566.8 L236.9 574.5 L223.8 580.7 L206.6 583.5 L186.0 580.7 L163.2 569.9 L142.8 550.9 L124.2 516.9 L117.0 473.9 L111.7 483.1 L121.7 525.5 L142.5 558.2 L164.1 575.8 L187.6 585.1 L208.4 586.5 L225.3 582.6 L238.0 575.5 L246.8 567.2 L252.5 559.0Z" fill="#3bd40f"/><path d="M252.5 559.0 L246.7 567.1 L237.7 575.3 L225.0 582.2 L208.0 585.9 L187.2 584.2 L163.9 574.5 L142.5 556.7 L122.2 523.7 L112.7 481.1 L107.9 490.6 L120.2 532.4 L142.6 563.9 L165.1 580.4 L189.0 588.5 L209.9 588.8 L226.5 584.0 L238.9 576.3 L247.3 567.5 L252.5 559.0Z" fill="#42d50e"/><path d="M252.5 559.0 L247.1 567.4 L238.6 576.1 L226.2 583.6 L209.5 588.2 L188.6 587.6 L164.8 579.2 L142.6 562.4 L120.5 530.5 L108.8 488.5 L104.5 498.2 L118.9 539.3 L143.0 569.7 L166.3 584.9 L190.6 591.8 L211.5 591.0 L227.9 585.3 L239.8 577.0 L247.7 567.8 L252.5 559.0Z" fill="#49d60c"/><path d="M252.5 559.0 L247.6 567.7 L239.5 576.8 L227.5 584.9 L211.1 590.4 L190.2 590.9 L166.0 583.7 L142.9 568.2 L119.2 537.5 L105.4 496.2 L100.4 509.4 L117.9 548.2 L143.8 576.0 L167.8 589.3 L192.2 594.5 L212.8 592.6 L228.8 586.1 L240.3 577.3 L247.9 567.9 L252.5 559.0Z" fill="#4ad70c"/><path d="M252.5 559.0 L247.9 567.9 L240.2 577.2 L228.6 585.9 L212.5 592.2 L191.8 593.8 L167.4 588.2 L143.6 574.3 L118.2 545.7 L101.5 506.2 L96.9 521.7 L117.5 557.6 L145.0 582.5 L169.4 593.6 L193.8 597.1 L214.0 594.0 L229.6 586.8 L240.8 577.6 L248.1 568.0 L252.5 559.0Z" fill="#0dce1d"/><path d="M252.5 559.0 L248.1 568.0 L240.6 577.5 L229.4 586.6 L213.7 593.6 L193.3 596.4 L169.0 592.5 L144.7 580.8 L117.6 555.1 L97.7 518.4 L94.5 533.6 L117.7 566.7 L146.6 588.7 L171.3 597.9 L195.5 599.7 L215.4 595.4 L230.5 587.5 L241.3 577.9 L248.3 568.1 L252.5 559.0Z" fill="#03e481"/><path d="M252.5 559.0 L248.2 568.0 L241.1 577.8 L230.2 587.3 L214.9 595.0 L195.0 598.9 L170.8 596.7 L146.2 587.1 L117.6 564.5 L95.0 530.8 L93.4 541.9 L118.3 573.7 L148.3 594.2 L173.5 602.1 L197.7 602.6 L217.3 597.3 L232.0 588.6 L242.3 578.5 L248.8 568.3 L252.5 559.0Z" fill="#01e894"/><path d="M252.5 559.0 L248.7 568.2 L242.0 578.3 L231.6 588.3 L216.8 596.8 L197.1 601.8 L172.9 601.0 L147.8 592.8 L118.1 571.9 L93.7 539.7 L92.7 550.3 L119.3 580.7 L150.3 599.6 L175.8 606.1 L200.1 605.4 L219.4 599.1 L233.6 589.7 L243.3 579.0 L249.3 568.5 L252.5 559.0Z" fill="#01e998"/><path d="M252.5 559.0 L249.2 568.4 L243.0 578.9 L233.2 589.4 L218.8 598.6 L199.4 604.7 L175.2 605.1 L149.7 598.2 L119.0 578.9 L92.9 548.0 L92.6 554.9 L120.2 585.7 L152.3 604.3 L178.4 610.1 L202.8 608.3 L221.8 601.0 L235.5 590.8 L244.6 579.5 L249.9 568.7 L252.5 559.0Z" fill="#01e998"/><path d="M252.5 559.0 L249.7 568.6 L244.2 579.4 L235.0 590.5 L221.1 600.5 L202.0 607.5 L177.7 609.1 L151.8 603.2 L120.0 584.8 L92.6 554.4 L92.5 556.6 L120.9 589.2 L154.2 608.4 L181.2 614.0 L205.6 611.0 L224.4 602.8 L237.6 591.8 L246.0 580.0 L250.6 568.8 L252.5 559.0Z" fill="#06dd63"/><path d="M252.5 559.0 L250.4 568.8 L245.6 579.9 L237.0 591.5 L223.7 602.3 L204.9 610.3 L180.5 613.0 L153.7 607.3 L120.7 588.3 L92.5 556.2 L92.5 558.3 L121.7 592.6 L156.4 612.5 L184.2 617.6 L208.7 613.6 L227.1 604.4 L239.7 592.6 L247.4 580.4 L251.3 568.9 L252.5 559.0Z" fill="#0dce1f"/><path d="M252.5 559.0 L251.1 568.9 L247.0 580.3 L239.2 592.4 L226.4 604.0 L207.9 612.9 L183.4 616.7 L155.8 611.4 L121.5 591.7 L92.5 557.8 L92.5 560.6 L122.8 596.3 L158.7 616.5 L187.4 621.2 L211.7 615.9 L229.7 605.7 L241.7 593.3 L248.7 580.7 L251.9 569.0 L252.5 559.0Z" fill="#11cd15"/><path d="M252.5 559.0 L251.7 569.0 L248.4 580.6 L241.2 593.2 L229.0 605.4 L210.9 615.3 L186.5 620.2 L158.1 615.4 L122.5 595.3 L92.5 560.0 L92.5 562.8 L123.9 599.9 L161.2 620.4 L190.8 624.5 L214.9 618.1 L232.4 607.0 L243.8 593.9 L250.0 580.9 L252.5 569.0 L252.5 559.0Z" fill="#14cd15"/><path d="M252.5 559.0 L252.3 569.0 L249.7 580.8 L243.2 593.8 L231.7 606.7 L214.1 617.5 L189.9 623.6 L160.6 619.4 L123.6 599.0 L92.5 562.2 L92.6 564.9 L125.0 603.5 L163.9 624.2 L194.3 627.7 L218.3 620.0 L235.2 608.0 L245.9 594.4 L251.4 581.0 L253.1 569.0 L252.5 559.0Z" fill="#17ce14"/><path d="M252.5 559.0 L253.0 569.0 L251.0 581.0 L245.3 594.3 L234.5 607.8 L217.4 619.5 L193.4 626.8 L163.2 623.2 L124.7 602.5 L92.6 564.4 L92.7 566.9 L126.3 606.9 L166.7 627.9 L198.0 630.6 L221.7 621.8 L238.1 609.0 L248.0 594.7 L252.7 581.0 L253.8 568.9 L252.5 559.0Z" fill="#1ace14"/><path d="M252.5 559.0 L253.6 568.9 L252.4 581.0 L247.4 594.6 L237.3 608.7 L220.7 621.4 L197.0 629.9 L166.0 626.9 L125.9 606.0 L92.7 566.4 L92.9 570.2 L127.9 611.0 L169.8 631.6 L201.8 633.4 L225.0 623.4 L240.8 609.7 L249.9 594.9 L253.9 581.0 L254.3 568.8 L252.5 559.0Z" fill="#1dcf14"/><path d="M252.5 559.0 L254.2 568.9 L253.6 581.0 L249.4 594.9 L240.0 609.5 L224.1 623.0 L200.8 632.7 L169.0 630.6 L127.4 609.8 L92.8 569.2 L93.2 573.8 L129.7 615.1 L173.2 635.2 L205.8 635.9 L228.4 624.7 L243.4 610.2 L251.8 595.0 L255.1 580.9 L254.8 568.7 L252.5 559.0Z" fill="#50d80b"/><path d="M252.5 559.0 L254.7 568.8 L254.8 580.9 L251.3 595.0 L242.7 610.1 L227.5 624.4 L204.7 635.3 L172.3 634.2 L129.2 614.0 L93.1 572.8 L93.6 577.4 L131.7 619.2 L176.6 638.7 L209.9 638.3 L231.9 625.9 L246.1 610.6 L253.7 595.0 L256.2 580.7 L255.3 568.6 L252.5 559.0Z" fill="#92e301"/><path d="M252.5 559.0 L255.2 568.6 L255.9 580.7 L253.2 595.0 L245.4 610.5 L231.0 625.6 L208.8 637.7 L175.7 637.7 L131.1 618.1 L93.5 576.4 L94.3 583.2 L134.3 624.3 L180.6 642.2 L214.1 640.4 L235.4 626.9 L248.8 610.9 L255.6 594.9 L257.3 580.5 L255.8 568.4 L252.5 559.0Z" fill="#9de600"/><path d="M252.5 559.0 L255.7 568.5 L257.0 580.5 L255.1 594.9 L248.1 610.8 L234.5 626.6 L213.0 639.8 L179.4 641.2 L133.4 622.6 L94.0 581.0 L95.8 591.4 L137.9 630.4 L185.0 645.9 L218.4 642.3 L239.0 627.7 L251.5 611.0 L257.4 594.7 L258.4 580.2 L256.3 568.2 L252.5 559.0Z" fill="#9ee600"/><path d="M252.5 559.0 L256.2 568.3 L258.2 580.3 L256.9 594.7 L250.8 611.0 L238.1 627.5 L217.2 641.8 L183.8 644.9 L136.9 628.8 L95.4 589.2 L97.7 599.6 L141.8 636.3 L189.7 649.3 L222.8 644.0 L242.6 628.3 L254.3 611.0 L259.3 594.4 L259.5 579.8 L256.8 568.0 L252.5 559.0Z" fill="#a1e700"/><path d="M252.5 559.0 L256.7 568.1 L259.3 579.9 L258.8 594.4 L253.5 611.0 L241.7 628.2 L221.6 643.5 L188.4 648.4 L140.7 634.7 L97.2 597.4 L100.1 607.6 L146.0 642.0 L194.5 652.4 L227.3 645.4 L246.3 628.7 L257.0 610.8 L261.1 593.9 L260.6 579.4 L257.3 567.8 L252.5 559.0Z" fill="#a3e700"/><path d="M252.5 559.0 L257.1 567.9 L260.3 579.6 L260.6 594.1 L256.3 610.9 L245.3 628.6 L226.1 645.0 L193.2 651.6 L144.9 640.5 L99.4 605.5 L102.8 615.5 L150.5 647.4 L199.4 655.4 L231.9 646.6 L249.9 629.0 L259.7 610.5 L263.0 593.4 L261.7 579.0 L257.7 567.5 L252.5 559.0Z" fill="#96e400"/><path d="M252.5 559.0 L257.6 567.6 L261.4 579.1 L262.5 593.6 L259.0 610.6 L249.0 628.9 L230.6 646.3 L198.1 654.6 L149.3 646.0 L102.1 613.5 L106.0 623.3 L155.3 652.7 L204.6 658.0 L236.5 647.6 L253.6 629.0 L262.4 610.1 L264.7 592.9 L262.7 578.5 L258.1 567.3 L252.5 559.0Z" fill="#47d60d"/><path d="M252.5 559.0 L258.0 567.3 L262.4 578.6 L264.3 593.0 L261.7 610.2 L252.6 629.0 L235.2 647.3 L203.2 657.3 L154.0 651.3 L105.1 621.3 L109.6 630.9 L160.3 657.6 L209.8 660.4 L241.1 648.3 L257.3 628.8 L265.0 609.5 L266.5 592.2 L263.7 577.9 L258.6 566.9 L252.5 559.0Z" fill="#20cf13"/><path d="M252.5 559.0 L258.5 567.0 L263.5 578.1 L266.0 592.4 L264.3 609.6 L256.3 628.9 L239.9 648.1 L208.4 659.8 L158.9 656.3 L108.6 628.9 L113.5 638.3 L165.6 662.3 L215.2 662.5 L245.8 648.8 L260.9 628.5 L267.7 608.7 L268.2 591.4 L264.7 577.3 L259.0 566.6 L252.5 559.0Z" fill="#1ace14"/><path d="M252.5 559.0 L258.9 566.7 L264.4 577.5 L267.8 591.6 L267.0 608.9 L259.9 628.6 L244.6 648.6 L213.7 661.9 L164.2 661.1 L112.4 636.3 L117.9 645.4 L171.1 666.7 L220.6 664.3 L250.5 649.0 L264.5 628.0 L270.2 607.9 L269.9 590.5 L265.6 576.6 L259.4 566.3 L252.5 559.0Z" fill="#14cd15"/><path d="M252.5 559.0 L259.3 566.4 L265.4 576.8 L269.4 590.8 L269.6 608.1 L263.6 628.1 L249.3 648.9 L219.2 663.8 L169.6 665.6 L116.7 643.5 L122.6 652.4 L176.9 670.8 L226.2 665.8 L255.2 649.0 L268.1 627.2 L272.8 606.9 L271.5 589.6 L266.5 575.9 L259.7 565.9 L252.5 559.0Z" fill="#06dd61"/><path d="M252.5 559.0 L259.6 566.0 L266.3 576.1 L271.1 589.8 L272.1 607.2 L267.2 627.4 L254.0 649.0 L224.7 665.4 L175.3 669.8 L121.3 650.5 L127.6 659.0 L182.8 674.6 L231.8 667.0 L259.9 648.7 L271.7 626.3 L275.3 605.8 L273.1 588.5 L267.4 575.2 L260.1 565.5 L252.5 559.0Z" fill="#01e894"/><path d="M252.5 559.0 L260.0 565.6 L267.2 575.4 L272.7 588.8 L274.6 606.1 L270.7 626.6 L258.7 648.8 L230.3 666.7 L181.2 673.6 L126.2 657.3 L133.0 665.4 L189.0 678.1 L237.5 668.0 L264.6 648.2 L275.2 625.2 L277.7 604.5 L274.6 587.4 L268.2 574.4 L260.4 565.1 L252.5 559.0Z" fill="#00eba3"/><path d="M252.5 559.0 L260.3 565.2 L268.0 574.6 L274.2 587.7 L277.0 604.9 L274.2 625.5 L263.4 648.3 L236.0 667.8 L187.3 677.2 L131.6 663.8 L138.8 671.5 L195.3 681.3 L243.2 668.6 L269.3 647.4 L278.6 623.9 L280.0 603.1 L276.1 586.2 L269.0 573.5 L260.7 564.7 L252.5 559.0Z" fill="#00edb3"/><path d="M252.5 559.0 L260.6 564.8 L268.8 573.8 L275.7 586.5 L279.4 603.5 L277.7 624.3 L268.0 647.6 L241.7 668.5 L193.6 680.5 L137.2 669.9 L149.1 681.1 L204.6 685.2 L250.0 669.0 L273.9 646.4 L282.0 622.5 L282.3 601.6 L277.5 585.0 L269.8 572.6 L261.0 564.2 L252.5 559.0Z" fill="#00f0ca"/><path d="M252.5 559.0 L260.9 564.4 L269.6 572.9 L277.1 585.3 L281.7 602.0 L281.1 622.9 L272.7 646.7 L248.1 668.9 L201.9 684.2 L146.0 678.4 L161.4 690.5 L214.9 688.7 L257.0 668.9 L278.4 645.2 L285.3 620.9 L284.5 600.0 L278.8 583.6 L270.5 571.7 L261.3 563.8 L252.5 559.0Z" fill="#0ae7f4"/><path d="M252.5 559.0 L261.2 563.9 L270.3 572.0 L278.4 584.0 L283.9 600.4 L284.4 621.3 L277.2 645.5 L255.1 669.0 L212.1 687.8 L158.0 688.1 L174.5 698.7 L225.4 691.3 L264.0 668.4 L282.9 643.7 L288.4 619.1 L286.6 598.3 L280.0 582.2 L271.1 570.8 L261.5 563.3 L252.5 559.0Z" fill="#1fcafc"/><path d="M252.5 559.0 L261.5 563.4 L270.9 571.0 L279.7 582.6 L286.0 598.7 L287.6 619.6 L281.7 644.1 L262.2 668.6 L222.6 690.6 L170.9 696.6 L188.4 705.6 L236.1 693.0 L271.0 667.4 L287.3 642.0 L291.5 617.1 L288.6 596.4 L281.2 580.7 L271.7 569.8 L261.7 562.8 L252.5 559.0Z" fill="#23c5fd"/><path d="M252.5 559.0 L261.7 563.0 L271.5 570.0 L280.9 581.1 L288.1 596.9 L290.7 617.6 L286.1 642.5 L269.1 667.7 L233.2 692.6 L184.6 703.9 L202.8 711.1 L246.9 693.9 L277.9 666.0 L291.6 640.1 L294.5 615.0 L290.5 594.5 L282.3 579.2 L272.2 568.8 L261.9 562.4 L252.5 559.0Z" fill="#2abaff"/><path d="M252.5 559.0 L261.9 562.5 L272.1 569.0 L282.0 579.6 L290.0 595.0 L293.7 615.6 L290.4 640.6 L276.1 666.4 L244.0 693.7 L198.9 709.8 L217.8 715.2 L257.8 693.9 L284.7 664.2 L295.8 637.9 L297.4 612.7 L292.3 592.5 L283.3 577.6 L272.7 567.7 L262.1 561.9 L252.5 559.0Z" fill="#2db1ff"/><path d="M252.5 559.0 L262.0 562.0 L272.6 568.0 L283.1 578.0 L291.8 593.0 L296.6 613.3 L294.7 638.5 L282.9 664.7 L254.9 694.0 L213.8 714.2 L232.1 717.7 L268.1 693.1 L291.2 662.0 L299.8 635.5 L300.2 610.3 L294.0 590.3 L284.2 576.0 L273.1 566.6 L262.2 561.4 L252.5 559.0Z" fill="#2eafff"/><path d="M252.5 559.0 L262.2 561.5 L273.0 566.9 L284.0 576.4 L293.6 590.9 L299.4 610.9 L298.8 636.2 L289.6 662.6 L265.7 693.4 L228.9 717.3 L240.4 718.5 L275.1 692.1 L296.5 659.8 L303.8 633.0 L302.8 607.7 L295.6 588.1 L285.1 574.3 L273.5 565.5 L262.3 560.8 L252.5 559.0Z" fill="#31aaff"/><path d="M252.5 559.0 L262.3 561.0 L273.4 565.8 L284.9 574.7 L295.2 588.7 L302.1 608.4 L302.7 633.7 L295.1 660.4 L273.2 692.4 L238.2 718.4 L248.8 719.0 L282.0 690.7 L301.7 657.4 L307.6 630.2 L305.3 605.0 L297.0 585.8 L285.8 572.6 L273.8 564.4 L262.4 560.3 L252.5 559.0Z" fill="#32a6ff"/><path d="M252.5 559.0 L262.4 560.5 L273.7 564.7 L285.7 573.0 L296.7 586.4 L304.6 605.7 L306.6 630.9 L300.3 658.1 L280.2 691.1 L246.6 718.9 L257.2 718.9 L288.9 689.0 L306.8 654.7 L311.2 627.2 L307.6 602.2 L298.4 583.5 L286.5 570.8 L274.1 563.3 L262.5 559.8 L252.5 559.0Z" fill="#33a5ff"/><path d="M252.5 559.0 L262.5 559.9 L274.0 563.6 L286.3 571.3 L298.0 584.1 L307.0 603.0 L310.3 628.0 L305.5 655.4 L287.0 689.5 L254.9 719.0 L265.5 718.5 L295.6 686.9 L311.7 651.7 L314.7 624.0 L309.8 599.2 L299.6 581.0 L287.1 569.0 L274.3 562.2 L262.5 559.3 L252.5 559.0Z" fill="#35a1ff"/><path d="M252.5 559.0 L262.5 559.4 L274.2 562.5 L286.9 569.5 L299.3 581.7 L309.2 600.0 L313.8 624.9 L310.4 652.5 L293.8 687.5 L263.3 718.6 L273.9 717.6 L302.3 684.5 L316.5 648.5 L318.0 620.7 L311.8 596.2 L300.7 578.5 L287.6 567.2 L274.4 561.0 L262.5 558.8 L252.5 559.0Z" fill="#379cff"/><path d="M252.5 559.0 L262.5 558.9 L274.4 561.3 L287.4 567.7 L300.4 579.2 L311.3 597.0 L317.2 621.6 L315.2 649.4 L300.5 685.2 L271.7 717.8 L282.1 716.2 L308.8 681.7 L321.1 645.0 L321.2 617.2 L313.7 593.0 L301.7 576.0 L287.9 565.3 L274.5 559.9 L262.5 558.2 L252.5 559.0Z" fill="#3899ff"/><path d="M252.5 559.0 L262.5 558.4 L274.5 560.2 L287.8 565.8 L301.4 576.7 L313.2 593.9 L320.4 618.1 L319.9 645.9 L307.0 682.5 L279.9 716.6 L290.3 714.5 L315.1 678.6 L325.5 641.3 L324.1 613.5 L315.4 589.8 L302.5 573.4 L288.2 563.5 L274.5 558.7 L262.4 557.7 L252.5 559.0Z" fill="#3898ff"/><path d="M252.5 559.0 L262.4 557.9 L274.5 559.0 L288.2 564.0 L302.3 574.1 L314.9 590.7 L323.4 614.5 L324.3 642.3 L313.4 679.5 L288.1 715.0 L298.4 712.3 L321.3 675.2 L329.7 637.4 L326.9 609.7 L316.9 586.5 L303.2 570.7 L288.4 561.6 L274.5 557.6 L262.3 557.2 L252.5 559.0Z" fill="#3899ff"/><path d="M252.5 559.0 L262.4 557.3 L274.5 557.9 L288.4 562.1 L303.0 571.5 L316.5 587.4 L326.2 610.7 L328.6 638.4 L319.6 676.1 L296.3 712.9 L306.4 709.7 L327.3 671.4 L333.7 633.2 L329.4 605.7 L318.2 583.1 L303.7 568.1 L288.5 559.7 L274.4 556.4 L262.2 556.7 L252.5 559.0Z" fill="#379bff"/><path d="M252.5 559.0 L262.3 556.8 L274.4 556.7 L288.5 560.2 L303.6 568.8 L317.9 584.0 L328.8 606.8 L332.7 634.3 L325.7 672.4 L304.3 710.4 L314.2 706.6 L333.0 667.3 L337.5 628.9 L331.8 601.6 L319.4 579.6 L304.1 565.4 L288.5 557.8 L274.2 555.3 L262.1 556.2 L252.5 559.0Z" fill="#379cff"/><path d="M252.5 559.0 L262.1 556.3 L274.2 555.6 L288.5 558.3 L304.0 566.1 L319.1 580.5 L331.2 602.7 L336.5 630.0 L331.5 668.5 L312.1 707.5 L321.8 703.2 L338.6 663.0 L341.0 624.3 L333.9 597.4 L320.4 576.1 L304.4 562.7 L288.4 555.9 L274.0 554.2 L261.9 555.7 L252.5 559.0Z" fill="#369dff"/><path d="M252.5 559.0 L262.0 555.8 L274.0 554.5 L288.4 556.4 L304.3 563.4 L320.1 577.0 L333.3 598.5 L340.1 625.5 L337.1 664.2 L319.8 704.2 L329.3 699.4 L343.9 658.3 L344.3 619.6 L335.8 593.1 L321.2 572.5 L304.5 560.0 L288.2 554.1 L273.7 553.1 L261.7 555.2 L252.5 559.0Z" fill="#32a6ff"/><path d="M252.5 559.0 L261.8 555.3 L273.8 553.3 L288.2 554.6 L304.5 560.7 L321.0 573.4 L335.3 594.3 L343.5 620.9 L342.5 659.6 L327.3 700.4 L336.5 695.2 L349.0 653.4 L347.4 614.7 L337.5 588.7 L321.8 568.9 L304.5 557.2 L287.9 552.2 L273.3 552.0 L261.5 554.7 L252.5 559.0Z" fill="#2eb0ff"/><path d="M252.5 559.0 L261.6 554.8 L273.4 552.2 L287.9 552.7 L304.5 558.0 L321.7 569.8 L337.0 589.9 L346.6 616.0 L347.7 654.7 L334.6 696.3 L343.5 690.6 L353.8 648.2 L350.1 609.7 L338.9 584.2 L322.2 565.2 L304.3 554.5 L287.4 550.4 L272.9 550.9 L261.3 554.2 L252.5 559.0Z" fill="#2cb4ff"/><path d="M252.5 559.0 L261.4 554.4 L273.1 551.2 L287.6 550.9 L304.4 555.2 L322.1 566.2 L338.5 585.4 L349.4 611.0 L352.5 649.6 L341.7 691.8 L350.3 685.6 L358.3 642.8 L352.7 604.5 L340.1 579.6 L322.5 561.6 L304.0 551.8 L286.9 548.5 L272.5 549.8 L261.0 553.8 L252.5 559.0Z" fill="#23c4fd"/><path d="M252.5 559.0 L261.1 553.9 L272.6 550.1 L287.1 549.0 L304.1 552.5 L322.4 562.5 L339.8 580.9 L352.0 605.9 L357.2 644.3 L348.5 687.0 L356.8 680.3 L362.6 637.2 L354.9 599.2 L341.1 575.0 L322.5 557.9 L303.6 549.1 L286.4 546.8 L272.0 548.8 L260.8 553.4 L252.5 559.0Z" fill="#11def6"/><path d="M252.5 559.0 L260.8 553.5 L272.1 549.1 L286.5 547.2 L303.7 549.8 L322.5 558.9 L340.8 576.3 L354.3 600.6 L361.5 638.7 L355.1 681.8 L363.0 674.7 L366.5 631.3 L356.9 593.8 L341.8 570.4 L322.3 554.2 L303.0 546.5 L285.7 545.0 L271.4 547.8 L260.4 552.9 L252.5 559.0Z" fill="#0ae8f4"/><path d="M252.5 559.0 L260.5 553.0 L271.6 548.0 L285.9 545.5 L303.1 547.2 L322.4 555.2 L341.6 571.6 L356.4 595.2 L365.5 632.9 L361.4 676.3 L368.9 668.8 L370.1 625.2 L358.5 588.3 L342.3 565.7 L322.0 550.6 L302.2 543.8 L284.9 543.3 L270.8 546.8 L260.1 552.5 L252.5 559.0Z" fill="#07ebf3"/><path d="M252.5 559.0 L260.2 552.6 L271.0 547.1 L285.1 543.7 L302.4 544.5 L322.1 551.6 L342.1 566.9 L358.1 589.7 L369.2 626.9 L367.3 670.4 L374.5 662.5 L373.4 619.0 L359.9 582.7 L342.5 561.0 L321.5 547.0 L301.4 541.3 L284.0 541.6 L270.1 545.9 L259.8 552.1 L252.5 559.0Z" fill="#02f2f1"/><path d="M252.5 559.0 L259.9 552.2 L270.3 546.1 L284.3 542.1 L301.6 541.9 L321.6 547.9 L342.4 562.2 L359.6 584.2 L372.6 620.7 L373.0 664.2 L379.7 656.0 L376.4 612.6 L361.0 577.0 L342.5 556.3 L320.7 543.4 L300.4 538.7 L283.1 540.0 L269.4 545.0 L259.4 551.8 L252.5 559.0Z" fill="#00f5ed"/></g><path d="M245.7 561.0 L242.7 562.1 L238.9 564.2 L234.7 566.5 L230.4 568.8 L226.4 570.5 L223.0 571.3 L219.9 571.7 L216.6 571.9 L213.4 571.9 L210.2 571.6 L207.2 571.0 L204.5 570.2 L202.2 569.7 L199.7 568.8 L197.1 567.8 L194.3 566.5 L191.4 565.1 L188.6 563.6 L186.0 562.3 L183.5 560.8 L180.8 559.1 L178.0 557.2 L175.2 555.2 L172.4 553.2 L169.8 551.2 L167.6 549.3 L165.6 547.6 L164.0 545.9 L162.5 544.2 L160.9 542.2 L159.0 540.0 L157.1 537.7 L155.5 535.5 L153.9 533.2 L152.5 530.8 L151.1 528.1 L149.3 525.1 L147.4 521.4 L145.5 517.3 L143.6 512.9 L141.9 508.5 L140.3 504.3 L138.3 500.3 L136.3 496.3 L134.5 492.4 L132.9 488.6 L131.6 485.2 L130.5 482.3 L128.8 479.6 L127.5 476.2 L126.4 472.2 L125.5 468.2 L124.5 464.4 L123.3 461.4 L103.6 458.0 L101.6 460.1 L99.3 463.1 L96.8 467.2 L94.4 472.1 L92.2 477.8 L90.5 484.1 L90.2 490.2 L90.2 496.0 L90.5 501.9 L91.1 507.8 L91.8 513.5 L92.6 519.2 L94.3 524.9 L96.2 530.7 L98.2 536.5 L100.5 542.3 L103.0 548.0 L105.7 553.5 L108.9 558.5 L112.2 563.1 L115.6 567.3 L119.0 571.1 L122.4 574.6 L125.8 577.8 L129.5 580.9 L133.4 583.8 L137.3 586.3 L141.1 588.5 L144.8 590.5 L148.4 592.4 L152.2 594.3 L156.2 596.3 L160.6 598.2 L165.2 600.1 L170.0 601.9 L174.9 603.3 L179.7 604.2 L184.5 605.0 L189.6 605.5 L194.9 605.8 L200.4 605.8 L205.9 605.2 L211.1 603.8 L216.1 602.0 L220.9 599.9 L225.5 597.4 L230.0 594.6 L234.3 591.3 L238.5 587.3 L242.3 582.8 L245.6 578.3 L248.4 574.0 L250.5 570.4 L251.8 567.6Z" fill="#bdee00" opacity="0.85" filter="url(#b5)"/><path d="M246.3 561.7 L243.5 563.0 L240.0 565.2 L235.9 567.8 L231.7 570.3 L227.7 572.3 L224.2 573.5 L221.0 574.1 L217.6 574.6 L214.2 574.8 L210.8 574.7 L207.6 574.3 L204.7 573.7 L202.0 573.2 L199.3 572.5 L196.4 571.5 L193.4 570.3 L190.2 568.9 L187.3 567.4 L184.5 566.1 L181.7 564.6 L178.8 562.9 L175.9 561.0 L172.9 559.0 L170.0 557.0 L167.3 555.2 L164.8 553.5 L162.5 551.8 L160.5 550.2 L158.6 548.4 L156.7 546.5 L154.5 544.2 L152.4 541.9 L150.4 539.6 L148.5 537.1 L146.7 534.5 L145.0 531.5 L142.6 528.4 L140.1 524.6 L137.6 520.5 L135.2 516.1 L132.9 511.6 L130.8 507.5 L128.1 503.4 L125.5 498.7 L123.0 493.7 L120.7 489.0 L118.4 485.0 L116.4 482.1 L104.6 484.3 L103.7 487.6 L102.9 492.2 L102.4 497.6 L102.1 503.6 L101.9 509.9 L102.1 516.1 L103.2 521.8 L104.6 527.5 L106.1 533.3 L107.8 539.0 L109.7 544.6 L111.8 550.1 L114.7 554.8 L117.6 559.2 L120.7 563.3 L123.8 567.0 L126.9 570.3 L130.0 573.5 L133.4 576.6 L136.9 579.5 L140.4 582.1 L143.9 584.4 L147.3 586.5 L150.8 588.6 L154.4 590.5 L158.4 592.5 L162.5 594.4 L166.9 596.3 L171.5 598.1 L176.2 599.5 L180.8 600.5 L185.4 601.3 L190.3 601.9 L195.3 602.2 L200.5 602.2 L205.7 601.7 L210.7 600.5 L215.5 598.9 L220.1 597.0 L224.6 594.7 L228.9 592.1 L233.1 589.2 L237.2 585.5 L241.0 581.3 L244.4 577.0 L247.3 572.9 L249.6 569.4 L251.1 566.8Z" fill="#fffc00" opacity="0.95" filter="url(#b5)"/><path d="M244.4 563.8 L242.0 565.0 L238.9 566.9 L235.4 569.2 L231.8 571.5 L228.2 573.3 L225.0 574.4 L221.9 575.2 L218.4 575.9 L214.9 576.4 L211.3 576.7 L207.9 576.6 L204.7 576.3 L201.8 576.1 L198.8 575.7 L195.6 575.0 L192.3 574.0 L188.9 572.9 L185.6 571.7 L182.5 570.5 L179.3 569.2 L176.2 567.6 L173.0 565.9 L169.8 564.1 L166.7 562.2 L163.8 560.5 L161.0 558.8 L158.4 557.1 L155.9 555.3 L153.5 553.5 L151.2 551.4 L148.7 549.3 L146.3 546.9 L143.8 544.4 L141.4 541.7 L139.1 538.9 L136.9 536.0 L134.6 533.3 L132.4 530.4 L130.3 527.4 L128.3 524.4 L126.4 521.3 L124.6 518.2 L122.9 514.9 L121.1 511.2 L119.5 507.3 L118.0 503.7 L116.6 500.6 L115.5 498.4 L110.6 499.6 L110.6 502.1 L110.9 505.4 L111.3 509.4 L111.8 513.8 L112.5 518.2 L113.4 522.4 L114.4 526.3 L115.6 530.2 L116.9 534.1 L118.4 538.0 L119.9 541.8 L121.6 545.6 L123.6 549.2 L125.7 552.9 L127.9 556.5 L130.3 560.0 L132.8 563.5 L135.5 566.9 L138.4 569.9 L141.4 572.7 L144.4 575.4 L147.6 577.9 L150.8 580.3 L154.1 582.6 L157.6 584.7 L161.3 586.8 L165.2 588.9 L169.3 590.9 L173.5 592.8 L177.8 594.4 L182.1 595.6 L186.5 596.6 L191.1 597.5 L195.8 598.1 L200.7 598.4 L205.7 598.3 L210.5 597.3 L215.2 595.9 L219.7 594.3 L224.1 592.3 L228.3 590.0 L232.3 587.5 L236.0 584.1 L239.4 580.3 L242.3 576.4 L244.8 572.8 L246.7 569.7 L247.9 567.3Z" fill="#ffcb00" opacity="0.92" filter="url(#b4)"/><path d="M244.8 564.1 L242.4 565.4 L239.4 567.4 L235.9 569.8 L232.3 572.1 L228.8 574.0 L225.5 575.2 L222.4 576.3 L218.9 577.2 L215.3 577.9 L211.6 578.3 L208.1 578.4 L204.8 578.3 L201.7 578.2 L198.5 577.8 L195.1 577.2 L191.7 576.3 L188.2 575.2 L184.8 574.1 L181.5 572.9 L178.2 571.6 L174.9 570.0 L171.6 568.3 L168.3 566.6 L165.2 564.7 L162.0 563.1 L159.1 561.5 L156.3 559.9 L153.6 558.1 L150.9 556.3 L148.3 554.2 L145.6 552.1 L142.9 549.7 L140.2 547.1 L137.6 544.4 L135.1 541.5 L132.7 538.7 L130.3 535.5 L128.0 532.0 L125.7 528.2 L123.6 524.7 L121.8 521.8 L120.4 519.7 L117.7 521.0 L118.3 523.4 L119.4 526.7 L120.8 530.6 L122.3 534.8 L124.1 539.0 L125.8 542.9 L127.6 546.5 L129.5 550.2 L131.5 553.8 L133.6 557.3 L135.9 560.7 L138.3 564.1 L141.0 567.1 L143.7 569.9 L146.6 572.6 L149.5 575.2 L152.5 577.6 L155.6 580.0 L159.1 582.2 L162.7 584.4 L166.4 586.5 L170.4 588.5 L174.5 590.4 L178.6 592.0 L182.8 593.3 L187.1 594.4 L191.5 595.3 L196.1 596.0 L200.8 596.4 L205.6 596.3 L210.3 595.5 L214.8 594.3 L219.3 592.8 L223.7 591.0 L227.8 589.0 L231.8 586.6 L235.5 583.3 L238.9 579.7 L241.8 575.9 L244.3 572.3 L246.3 569.3 L247.6 567.0Z" fill="#ff8f00" opacity="0.97" filter="url(#b3)"/><path d="M249.7 581.5 L246.9 582.9 L243.2 585.0 L239.0 587.5 L234.4 590.1 L229.9 592.3 L225.8 593.9 L221.7 595.2 L217.4 596.3 L212.9 597.3 L208.5 598.0 L204.2 598.3 L200.2 598.4 L196.6 598.3 L193.0 597.9 L189.4 597.2 L185.8 596.3 L182.1 595.1 L178.3 593.9 L174.5 592.5 L170.6 590.9 L166.8 589.2 L163.0 587.2 L159.2 585.1 L155.5 582.9 L151.8 580.6 L148.1 578.0 L144.4 575.2 L140.7 572.4 L137.3 569.5 L134.1 566.7 L131.2 564.3 L128.4 561.9 L125.9 559.5 L123.6 557.2 L121.5 554.8 L119.6 552.5 L117.3 550.3 L115.0 547.6 L112.7 544.6 L110.6 541.6 L108.7 539.1 L107.0 537.2 L95.2 542.7 L95.4 545.0 L96.0 548.1 L96.9 551.9 L98.0 556.2 L99.6 560.6 L101.4 564.9 L103.8 568.5 L106.3 571.9 L109.1 575.2 L112.0 578.4 L115.1 581.6 L118.4 584.8 L122.1 587.9 L126.2 591.0 L130.4 594.2 L134.9 597.2 L139.4 600.1 L144.0 602.8 L148.6 605.2 L153.3 607.3 L158.0 609.3 L162.8 611.1 L167.6 612.7 L172.4 614.0 L177.1 615.0 L181.8 615.9 L186.6 616.5 L191.5 616.8 L196.5 616.8 L201.6 616.3 L206.8 615.3 L212.0 613.9 L217.1 612.2 L222.1 610.2 L226.9 608.0 L231.6 605.5 L236.0 602.3 L240.4 598.5 L244.5 594.7 L248.0 591.0 L250.9 587.8 L252.8 585.4Z" fill="#00f6da" opacity="0.97" filter="url(#b4)"/><path d="M251.4 549.6 L250.6 547.0 L249.3 543.5 L247.8 539.4 L246.1 535.0 L244.5 530.6 L242.9 526.5 L241.4 522.7 L239.7 519.0 L238.1 515.4 L236.6 511.8 L235.3 508.3 L234.2 504.9 L233.1 501.3 L232.1 497.7 L231.3 494.2 L230.7 490.9 L230.4 487.9 L230.5 485.2 L230.7 482.7 L231.1 480.2 L231.9 477.7 L232.8 475.3 L234.0 472.7 L235.3 470.3 L236.5 467.7 L237.9 465.3 L239.6 462.8 L241.4 460.4 L243.5 458.1 L245.7 455.8 L248.3 453.2 L251.6 450.5 L255.2 447.7 L258.8 445.1 L261.8 442.8 L263.9 441.0 L260.9 435.8 L258.3 436.7 L254.8 438.1 L250.7 439.9 L246.2 442.0 L241.9 444.3 L238.1 446.6 L234.9 449.2 L232.1 451.9 L229.5 454.7 L227.1 457.6 L224.9 460.6 L222.9 463.7 L221.4 467.0 L220.0 470.4 L218.9 473.9 L218.1 477.6 L217.6 481.4 L217.5 485.4 L218.0 489.5 L219.0 493.5 L220.3 497.4 L221.7 501.2 L223.3 504.8 L224.9 508.5 L226.6 512.1 L228.5 515.7 L230.6 519.2 L232.6 522.7 L234.6 526.1 L236.6 529.5 L238.7 533.2 L241.0 537.3 L243.2 541.5 L245.4 545.3 L247.2 548.5 L248.6 550.8Z" fill="#fffc00" opacity="0.85" filter="url(#b3)"/><path d="M385.4 635.3 L387.9 631.8 L391.1 626.8 L394.8 620.7 L398.7 613.9 L402.3 606.9 L405.3 600.1 L407.3 593.4 L409.0 586.6 L410.4 579.8 L411.5 572.9 L412.3 566.0 L412.7 559.0 L412.3 552.1 L411.5 545.1 L410.4 538.2 L409.0 531.4 L407.3 524.7 L405.3 518.0 L402.3 511.1 L398.7 504.1 L394.8 497.4 L391.1 491.3 L387.9 486.2 L385.4 482.7 L379.9 485.1 L380.9 489.4 L382.6 495.2 L384.8 501.8 L386.9 508.9 L388.8 515.9 L389.9 522.3 L391.0 528.3 L391.9 534.4 L392.5 540.6 L392.9 546.8 L392.9 552.9 L392.7 559.0 L392.9 565.1 L392.9 571.3 L392.5 577.4 L391.9 583.6 L391.0 589.8 L389.9 595.7 L388.8 602.1 L386.9 609.1 L384.8 616.2 L382.6 622.9 L380.9 628.6 L379.9 632.9Z" fill="#3fd50e" opacity="0.90" filter="url(#b4)"/><path d="M261.0 564.7 L264.0 565.6 L268.2 566.6 L273.0 567.8 L277.9 569.2 L282.4 570.8 L286.1 572.7 L289.3 574.7 L292.5 577.2 L295.5 579.9 L298.3 582.9 L300.7 585.9 L302.8 588.8 L304.6 591.7 L306.2 594.8 L307.5 598.2 L308.6 601.6 L309.5 604.9 L310.0 607.8 L310.6 610.4 L310.9 613.3 L310.8 616.5 L310.6 619.6 L310.4 622.3 L310.4 624.5 L319.3 626.1 L320.0 624.3 L321.0 621.8 L322.1 618.5 L323.1 614.7 L323.8 610.4 L323.9 606.0 L323.1 601.9 L322.1 597.7 L320.7 593.4 L318.9 589.0 L316.7 584.7 L314.1 580.7 L311.0 577.1 L307.5 573.7 L303.7 570.5 L299.6 567.5 L295.3 564.9 L290.7 562.7 L285.6 561.1 L280.0 560.1 L274.4 559.4 L269.3 559.1 L265.1 558.9 L262.0 558.8Z" fill="#5448ec" opacity="0.92" filter="url(#b3)"/><path d="M314.6 625.3 L316.2 623.2 L318.3 620.2 L320.6 616.6 L323.1 612.8 L325.6 609.2 L328.1 606.1 L329.6 602.4 L331.5 598.3 L333.6 594.3 L335.6 590.5 L337.2 587.2 L338.2 584.7 L335.0 582.3 L332.9 583.9 L330.1 586.2 L326.9 589.2 L323.5 592.4 L320.1 595.9 L317.0 599.3 L315.2 603.5 L313.6 608.0 L312.0 612.5 L310.7 616.6 L309.7 620.1 L309.2 622.7Z" fill="#5040e6" opacity="0.97" filter="url(#b3)"/><path d="M341.2 587.0 L342.3 590.2 L344.1 594.5 L346.3 599.5 L348.3 604.8 L349.9 610.0 L350.8 614.7 L351.4 619.3 L351.8 624.3 L351.8 629.5 L351.4 634.5 L350.8 639.4 L349.8 643.8 L348.7 647.9 L347.3 651.8 L345.5 655.6 L343.4 659.3 L341.0 663.0 L338.4 666.5 L335.4 670.2 L331.5 674.2 L327.1 678.3 L322.9 682.0 L319.1 685.2 L316.5 687.7 L324.3 696.8 L327.0 694.7 L330.9 691.8 L335.5 688.1 L340.5 684.1 L345.2 679.7 L349.3 675.3 L352.5 671.0 L355.4 666.6 L358.0 662.0 L360.2 657.2 L362.1 652.1 L363.5 646.9 L364.3 641.3 L364.7 635.4 L364.8 629.5 L364.4 623.5 L363.7 617.7 L362.5 612.0 L360.3 606.3 L357.4 600.7 L354.3 595.4 L351.2 590.7 L348.5 586.9 L346.5 584.2Z" fill="#6e9cff" opacity="0.90" filter="url(#b4)"/><path d="M274.2 682.3 L276.6 682.4 L279.8 682.5 L283.8 682.4 L288.3 682.1 L293.0 681.5 L297.8 680.5 L302.1 677.9 L306.3 675.0 L310.3 671.9 L313.9 668.9 L316.8 666.4 L318.8 664.5 L313.4 656.1 L310.8 657.2 L307.3 658.9 L303.3 660.9 L299.1 662.9 L295.1 664.6 L291.8 665.6 L289.0 667.1 L285.5 668.4 L281.8 669.6 L278.2 670.6 L275.0 671.5 L272.7 672.4Z" fill="#5a70f8" opacity="0.50" filter="url(#b6)"/><circle cx="252.5" cy="559.0" r="92.4" fill="none" stroke="#103020" stroke-width="0.7" opacity="0.6"/></g><polygon points="261.1,562.6 256.1,567.6 248.9,567.6 243.9,562.6 243.9,555.4 248.9,550.4 256.1,550.4 261.1,555.4" fill="#000"/><polygon points="257.7,561.1 254.6,564.2 250.4,564.2 247.3,561.1 247.3,556.9 250.4,553.8 254.6,553.8 257.7,556.9" fill="#ffee20"/><polygon points="350.2,559.2 347.9,562.2 344.9,564.5 341.9,562.2 339.6,559.2 341.9,556.2 344.9,553.9 347.9,556.2" fill="#000"/><polygon points="348.4,559.2 346.9,561.2 344.9,562.7 342.9,561.2 341.4,559.2 342.9,557.2 344.9,555.7 346.9,557.2" fill="#80f080"/><polygon points="323.9,501.4 321.6,504.4 318.6,506.7 315.6,504.4 313.3,501.4 315.6,498.4 318.6,496.1 321.6,498.4" fill="#000"/><polygon points="322.1,501.4 320.6,503.4 318.6,504.9 316.6,503.4 315.1,501.4 316.6,499.4 318.6,497.9 320.6,499.4" fill="#f08078"/>
<clipPath id="fd"><path d="M525.1 95.3 A155.5 155.5 0 0 1 525.1 364.7 L451.8 237.8 A9.0 9.0 0 0 0 451.8 222.2 Z"/></clipPath><g clip-path="url(#fd)"><rect x="440" y="90" width="170" height="280" fill="#4444ee"/><ellipse cx="548.3" cy="179.6" rx="17.0" ry="16.0" transform="rotate(0.0 548.3 179.6)" fill="#3030b8" opacity="0.60" filter="url(#b6)"/><ellipse cx="552.0" cy="248.7" rx="14.0" ry="14.0" transform="rotate(0.0 552.0 248.7)" fill="#3030b8" opacity="0.50" filter="url(#b6)"/><path d="M596.9 216.3 L595.4 219.8 L593.8 224.6 L592.1 230.1 L590.3 235.9 L588.4 241.2 L586.3 245.5 L584.5 249.3 L582.6 253.2 L580.5 256.9 L578.3 260.3 L576.0 263.3 L573.7 265.9 L571.9 268.6 L569.8 271.1 L567.5 273.6 L565.0 276.0 L562.3 278.3 L559.6 280.4 L557.3 282.8 L554.8 285.0 L552.1 287.1 L549.3 289.1 L546.5 290.9 L544.1 292.4 L541.8 293.8 L539.0 295.1 L535.8 296.1 L532.7 297.0 L529.9 297.9 L527.8 298.9 L527.7 306.9 L529.6 307.9 L532.3 309.0 L535.7 310.1 L539.7 311.0 L544.1 311.7 L548.8 311.8 L553.2 311.3 L557.6 310.6 L562.1 309.5 L566.7 308.1 L571.3 306.4 L575.8 304.4 L579.8 301.8 L583.8 298.9 L587.8 295.7 L591.7 292.2 L595.5 288.2 L599.1 283.8 L601.7 278.8 L604.0 273.7 L606.0 268.5 L607.7 263.1 L609.2 257.6 L610.4 252.0 L610.8 245.6 L610.8 238.8 L610.5 232.3 L610.1 226.2 L609.5 221.2 L608.8 217.7Z" fill="#4c8cff" opacity="1.00" filter="url(#b4)"/><path d="M598.1 231.4 L597.1 234.3 L595.8 238.2 L594.5 242.8 L592.9 247.7 L591.3 252.3 L589.5 256.1 L587.8 259.7 L586.0 263.3 L584.0 266.7 L581.8 270.0 L579.6 273.1 L577.4 275.8 L575.3 278.6 L572.7 281.4 L569.8 284.2 L567.1 286.7 L564.7 289.0 L563.0 290.7 L567.2 296.3 L569.3 295.3 L572.2 293.7 L575.6 291.8 L579.3 289.4 L583.0 286.6 L586.5 283.6 L589.1 280.1 L591.6 276.5 L593.9 272.6 L596.0 268.5 L598.0 264.3 L599.8 260.0 L600.9 255.0 L601.7 249.7 L602.3 244.4 L602.7 239.5 L603.0 235.4 L603.0 232.4Z" fill="#52a4ff" opacity="0.75" filter="url(#b4)"/><path d="M596.7 172.5 L596.9 175.4 L597.4 179.4 L597.9 184.1 L598.4 189.1 L598.8 194.1 L598.8 198.5 L598.9 202.9 L598.7 207.8 L598.3 212.7 L597.9 217.3 L597.6 221.2 L597.3 224.1 L605.3 224.8 L605.5 221.9 L605.9 218.0 L606.3 213.3 L606.7 208.2 L606.9 203.0 L606.8 198.1 L606.1 193.2 L605.0 188.1 L603.8 183.1 L602.6 178.4 L601.5 174.6 L600.7 171.8Z" fill="#5a9aff" opacity="0.50" filter="url(#b4)"/><ellipse cx="517.7" cy="135.6" rx="10.0" ry="13.0" transform="rotate(0.0 517.7 135.6)" fill="#5a9aff" opacity="0.50" filter="url(#b5)"/><ellipse cx="492.3" cy="230.0" rx="33.0" ry="52.0" transform="rotate(0.0 492.3 230.0)" fill="#5a9aff" opacity="0.70" filter="url(#b9)"/><path d="M523.4 193.6 L524.2 195.6 L525.4 198.3 L526.9 201.5 L528.4 204.9 L529.7 208.0 L530.6 210.6 L531.4 212.6 L532.0 214.6 L532.5 216.5 L532.9 218.3 L533.3 219.8 L533.6 221.0 L537.6 220.4 L537.6 219.3 L537.6 217.7 L537.5 215.8 L537.2 213.5 L536.8 211.1 L536.2 208.5 L534.8 205.7 L533.2 202.5 L531.3 199.3 L529.6 196.2 L528.0 193.6 L526.9 191.8Z" fill="#10d8ff" opacity="0.85" filter="url(#b2)"/><path d="M527.9 231.7 L527.9 233.5 L528.0 236.0 L528.2 238.8 L528.3 241.7 L528.3 244.5 L528.0 246.8 L527.9 249.1 L527.7 251.5 L527.4 253.9 L526.9 256.3 L526.3 258.6 L525.6 260.6 L524.8 262.8 L523.7 265.1 L522.2 267.6 L520.8 269.9 L519.5 272.0 L518.8 273.6 L521.8 276.1 L523.2 275.1 L525.1 273.6 L527.3 271.7 L529.5 269.5 L531.8 267.1 L533.7 264.5 L534.9 261.7 L535.9 258.8 L536.7 255.9 L537.3 252.9 L537.7 249.9 L538.0 246.9 L537.4 243.6 L536.6 240.4 L535.6 237.3 L534.5 234.5 L533.6 232.2 L532.8 230.7Z" fill="#10d8ff" opacity="0.97" filter="url(#b2)"/><path d="M530.9 237.6 L530.8 238.9 L530.8 240.7 L530.8 242.8 L530.8 244.9 L530.7 246.9 L530.5 248.6 L530.6 250.1 L530.5 251.9 L530.3 253.6 L530.0 255.3 L529.8 256.7 L529.8 257.8 L531.7 258.3 L532.2 257.4 L532.9 256.1 L533.6 254.6 L534.4 252.8 L535.0 250.8 L535.5 248.8 L535.2 246.7 L534.8 244.5 L534.3 242.3 L533.8 240.3 L533.3 238.6 L532.9 237.4Z" fill="#00f0b8" opacity="0.90" filter="url(#b2)"/><ellipse cx="512.8" cy="191.6" rx="8.0" ry="12.0" transform="rotate(20.0 512.8 191.6)" fill="#58b8ff" opacity="0.80" filter="url(#b3)"/><ellipse cx="509.1" cy="265.5" rx="10.0" ry="14.0" transform="rotate(-20.0 509.1 265.5)" fill="#58b8ff" opacity="0.80" filter="url(#b4)"/><ellipse cx="503.5" cy="231.9" rx="6.0" ry="14.0" transform="rotate(0.0 503.5 231.9)" fill="#58b0ff" opacity="0.50" filter="url(#b4)"/><ellipse cx="496.0" cy="166.6" rx="14.0" ry="12.0" transform="rotate(-30.0 496.0 166.6)" fill="#10d8ff" opacity="0.90" filter="url(#b4)"/><ellipse cx="494.5" cy="164.7" rx="10.0" ry="8.0" transform="rotate(-30.0 494.5 164.7)" fill="#00f0b8" opacity="0.97" filter="url(#b3)"/><ellipse cx="493.0" cy="163.2" rx="6.0" ry="4.5" transform="rotate(-30.0 493.0 163.2)" fill="#00d878" opacity="0.90" filter="url(#b2)"/><path d="M501.0 171.6 L502.4 172.6 L504.3 173.9 L506.5 175.4 L508.8 177.0 L510.9 178.7 L512.5 180.2 L514.1 181.7 L515.7 183.5 L517.3 185.5 L518.7 187.4 L519.9 189.0 L520.9 190.1 L523.4 188.6 L522.9 187.2 L522.1 185.3 L521.1 183.1 L519.9 180.7 L518.5 178.3 L516.8 176.1 L514.8 174.1 L512.4 172.3 L510.0 170.5 L507.7 168.9 L505.8 167.6 L504.5 166.7Z" fill="#10d8ff" opacity="0.75" filter="url(#b2)"/><path d="M501.8 216.1 L502.6 214.3 L503.6 211.7 L504.8 208.6 L506.1 205.2 L507.1 201.8 L507.7 198.6 L507.5 195.5 L506.8 192.6 L505.9 190.0 L505.0 187.7 L504.1 186.0 L503.5 184.7 L499.7 185.8 L499.8 187.2 L500.2 189.2 L500.6 191.4 L500.9 193.7 L501.0 196.0 L500.7 198.0 L500.4 200.3 L499.7 203.3 L498.7 206.4 L497.7 209.5 L496.8 212.2 L496.2 214.1Z" fill="#40c0ff" opacity="0.85" filter="url(#b3)"/><path d="M451.2 231.2 C455.2 229.1 467.1 222.3 475.5 218.8 C483.9 215.4 496.2 208.4 501.6 210.2 C507.0 212.1 508.3 223.6 508.0 230.0 C507.7 236.5 505.2 245.4 499.8 248.7 C494.3 252.0 479.5 249.6 475.5 249.8Z" fill="#10d8ff" opacity="0.92" filter="url(#b4)"/><path d="M460.0 242.6 L461.5 243.9 L463.7 245.8 L466.4 248.0 L469.2 250.3 L471.9 252.6 L474.4 254.6 L477.1 256.1 L479.9 257.6 L482.6 259.0 L485.2 260.3 L487.3 261.3 L489.0 262.0 L491.9 257.9 L490.7 256.5 L489.0 254.8 L487.0 252.9 L484.7 250.8 L482.5 248.6 L480.3 246.5 L477.7 244.8 L474.7 242.8 L471.8 240.8 L469.0 238.9 L466.6 237.3 L464.8 236.2Z" fill="#10d8ff" opacity="0.80" filter="url(#b3)"/><path d="M457.0 235.1 L459.1 235.7 L462.0 236.1 L465.4 236.6 L469.1 237.0 L472.8 237.3 L476.3 237.6 L479.4 237.3 L482.5 237.0 L485.6 236.6 L488.5 236.3 L491.2 235.9 L493.8 235.5 L496.3 234.4 L498.6 233.2 L500.8 232.1 L502.6 231.0 L504.2 229.9 L505.2 229.1 L503.2 221.3 L501.8 221.1 L500.0 221.0 L497.9 220.9 L495.5 220.9 L493.1 220.9 L490.7 220.8 L488.3 221.5 L485.7 222.2 L483.0 222.9 L480.3 223.5 L477.5 224.2 L474.7 224.7 L471.7 225.7 L468.3 226.7 L464.8 227.6 L461.5 228.5 L458.6 229.4 L456.6 230.2Z" fill="#00f0b8" opacity="0.95" filter="url(#b3)"/><path d="M470.2 235.0 L471.9 235.1 L474.1 235.2 L476.8 235.1 L479.6 235.0 L482.5 234.9 L485.0 234.8 L487.3 234.0 L489.6 233.1 L491.8 232.1 L493.8 231.3 L495.5 230.5 L496.6 229.8 L495.4 225.0 L494.0 225.0 L492.2 225.2 L490.1 225.4 L487.7 225.6 L485.4 225.8 L483.1 226.0 L480.9 226.9 L478.3 227.8 L475.7 228.7 L473.1 229.6 L471.0 230.4 L469.5 231.1Z" fill="#00d060" opacity="0.97" filter="url(#b2)"/><circle cx="447.3" cy="230.0" r="92.4" fill="none" stroke="#101050" stroke-width="0.7" opacity="0.6"/></g><circle cx="447.3" cy="230" r="5.6" fill="#ffee20"/><polygon points="545.0,224.0 542.7,227.0 539.7,229.3 536.7,227.0 534.4,224.0 536.7,221.0 539.7,218.7 542.7,221.0" fill="#000"/><polygon points="543.2,224.0 541.7,226.0 539.7,227.5 537.7,226.0 536.2,224.0 537.7,222.0 539.7,220.5 541.7,222.0" fill="#80f080"/>
<clipPath id="fv"><path d="M525.1 424.8 A155.5 155.5 0 0 1 525.1 694.2 L451.8 567.3 A9.0 9.0 0 0 0 451.8 551.7 Z"/></clipPath><g clip-path="url(#fv)"><rect x="440" y="400" width="170" height="320" fill="#00f3e3"/><path d="M527.8 423.7 C528.7 432.4 531.7 460.5 533.4 476.0 C535.0 491.6 537.5 505.9 537.8 517.1 C538.2 528.3 535.4 533.3 535.2 543.2 C535.1 553.2 534.8 566.0 537.1 576.8 C539.4 587.7 543.1 600.5 549.0 608.6 C555.0 616.7 562.1 621.7 572.6 625.4 C583.0 629.1 602.8 640.3 611.8 631.0 C620.8 621.7 626.1 595.2 626.7 569.4 C627.3 543.5 625.5 500.9 615.5 476.0 C605.6 451.1 575.1 429.3 567.0 420.0Z" fill="#59d90a" opacity="1.00" filter="url(#b6)"/><ellipse cx="568.8" cy="492.8" rx="27.0" ry="38.0" transform="rotate(10.0 568.8 492.8)" fill="#c3f000" opacity="0.90" filter="url(#b7)"/><ellipse cx="573.7" cy="494.7" rx="19.0" ry="27.0" transform="rotate(10.0 573.7 494.7)" fill="#fffc00" opacity="0.90" filter="url(#b5)"/><ellipse cx="583.4" cy="499.2" rx="14.0" ry="20.0" transform="rotate(10.0 583.4 499.2)" fill="#ffbb00" opacity="0.92" filter="url(#b4)"/><ellipse cx="552.0" cy="593.7" rx="12.0" ry="22.0" transform="rotate(0.0 552.0 593.7)" fill="#1ecf13" opacity="0.80" filter="url(#b5)"/><ellipse cx="552.0" cy="640.3" rx="12.0" ry="8.0" transform="rotate(0.0 552.0 640.3)" fill="#60d0ff" opacity="0.60" filter="url(#b5)"/><path d="M458.3 556.4 L461.0 555.2 L464.3 553.2 L467.9 550.6 L471.7 547.8 L475.5 545.1 L479.1 542.6 L481.7 539.9 L484.3 537.1 L487.0 534.3 L489.8 531.4 L492.5 528.4 L495.2 525.4 L496.8 521.5 L498.3 517.7 L499.8 513.9 L501.1 510.2 L502.3 506.6 L503.4 503.3 L503.9 499.8 L504.3 496.4 L504.6 493.3 L504.7 490.4 L504.5 487.9 L504.1 485.9 L495.4 481.0 L493.5 481.8 L491.3 482.9 L488.9 484.4 L486.4 486.2 L483.8 488.0 L481.2 489.8 L478.8 492.1 L476.3 494.6 L473.6 497.2 L470.9 499.9 L468.2 502.6 L465.5 505.1 L463.9 508.3 L462.2 511.5 L460.4 514.8 L458.5 518.2 L456.6 521.7 L454.7 525.2 L453.5 529.5 L452.1 534.0 L450.7 538.5 L449.6 542.8 L448.8 546.6 L448.5 549.5Z" fill="#59d90a" opacity="0.95" filter="url(#b4)"/><path d="M457.6 552.9 L459.8 551.4 L462.6 549.3 L465.7 546.6 L469.0 543.6 L472.2 540.7 L475.3 538.1 L477.6 535.2 L480.0 532.3 L482.4 529.4 L484.9 526.4 L487.3 523.5 L489.6 520.6 L491.0 517.1 L492.3 513.6 L493.6 510.2 L494.8 506.9 L495.9 503.8 L496.7 500.9 L497.4 498.3 L497.8 495.9 L498.2 493.7 L498.3 491.7 L498.3 490.0 L498.1 488.6 L493.9 485.9 L492.5 486.3 L491.0 487.0 L489.3 488.0 L487.4 489.2 L485.5 490.6 L483.4 492.2 L481.1 494.0 L478.7 496.2 L476.1 498.6 L473.5 501.0 L470.8 503.6 L468.1 506.1 L466.3 509.2 L464.5 512.5 L462.6 515.8 L460.7 519.2 L458.8 522.6 L457.0 526.0 L455.7 530.0 L454.4 534.3 L453.0 538.5 L451.9 542.5 L451.1 545.9 L450.8 548.6Z" fill="#fffc00" opacity="0.97" filter="url(#b3)"/><path d="M513.7 440.1 L513.2 442.7 L512.6 446.3 L511.9 450.5 L511.1 455.1 L510.2 459.6 L509.3 463.8 L508.2 467.7 L506.8 471.8 L505.4 476.1 L503.9 480.4 L502.5 484.9 L501.1 489.5 L500.4 494.2 L499.8 498.9 L499.3 503.5 L498.9 507.9 L498.3 511.9 L497.7 515.6 L496.9 519.1 L495.8 522.8 L494.6 526.4 L493.5 529.7 L492.5 532.6 L491.9 534.8 L500.2 538.2 L501.2 536.3 L502.7 533.7 L504.3 530.4 L506.1 526.7 L507.8 522.8 L509.3 518.6 L510.4 514.3 L511.4 509.9 L512.2 505.4 L513.0 500.9 L513.9 496.6 L514.8 492.4 L515.5 488.2 L516.4 483.9 L517.4 479.5 L518.4 474.9 L519.4 470.4 L520.1 465.9 L520.6 461.2 L521.0 456.3 L521.3 451.6 L521.5 447.2 L521.6 443.6 L521.7 441.0Z" fill="#50b4ff" opacity="0.80" filter="url(#b4)"/><ellipse cx="504.2" cy="491.7" rx="14.0" ry="16.0" transform="rotate(10.0 504.2 491.7)" fill="#6e9cff" opacity="0.95" filter="url(#b4)"/><ellipse cx="520.3" cy="455.5" rx="10.0" ry="18.0" transform="rotate(10.0 520.3 455.5)" fill="#50b4ff" opacity="0.80" filter="url(#b4)"/><path d="M452.6 573.7 L453.7 575.8 L455.3 578.7 L457.2 582.1 L459.2 585.8 L461.3 589.7 L463.4 593.4 L465.1 597.1 L467.0 601.0 L468.9 605.0 L470.8 609.0 L472.8 613.0 L474.7 617.0 L475.6 621.5 L476.5 626.0 L477.3 630.6 L478.2 635.1 L479.1 639.6 L480.0 644.1 L479.9 649.1 L479.9 653.9 L479.8 658.8 L479.7 663.7 L479.8 668.9 L480.1 674.3 L480.2 680.6 L480.8 687.6 L481.5 694.7 L482.0 701.6 L482.0 707.6 L481.3 712.4 L562.7 665.4 L558.2 663.6 L553.0 660.6 L547.3 656.7 L541.4 652.6 L535.7 648.6 L530.3 645.3 L525.7 642.4 L521.3 639.7 L517.0 637.3 L512.8 634.9 L508.5 632.6 L504.2 630.1 L500.7 627.1 L497.3 624.1 L493.8 621.1 L490.3 618.0 L486.8 615.0 L483.4 612.0 L480.9 608.4 L478.4 604.7 L475.8 601.0 L473.3 597.3 L470.9 593.8 L468.6 590.4 L466.4 586.8 L464.1 583.0 L461.9 579.4 L459.9 576.0 L458.2 573.2 L456.9 571.2Z" fill="#59d90a" opacity="0.95" filter="url(#b3)"/><path d="M453.5 573.2 L454.6 575.3 L456.1 578.2 L458.0 581.6 L460.1 585.3 L462.2 589.2 L464.2 592.9 L466.1 596.5 L468.2 600.3 L470.2 604.2 L472.3 608.2 L474.4 612.1 L476.4 616.0 L477.5 620.4 L478.6 624.8 L479.7 629.2 L480.8 633.6 L481.9 638.0 L483.0 642.4 L483.1 647.3 L483.2 652.0 L483.2 656.8 L483.4 661.7 L483.6 666.7 L483.9 672.0 L484.2 678.3 L484.8 685.2 L485.6 692.4 L486.2 699.2 L486.3 705.2 L485.6 709.9 L558.3 667.9 L553.9 666.1 L548.8 663.0 L543.2 659.1 L537.4 654.9 L531.7 650.9 L526.4 647.5 L522.0 644.5 L517.7 641.8 L513.6 639.3 L509.4 636.9 L505.3 634.4 L501.2 631.9 L497.9 628.7 L494.7 625.6 L491.4 622.4 L488.1 619.3 L484.9 616.1 L481.6 613.0 L479.3 609.3 L476.9 605.5 L474.5 601.7 L472.2 598.0 L469.9 594.4 L467.7 590.9 L465.5 587.3 L463.3 583.5 L461.1 579.9 L459.0 576.5 L457.3 573.7 L456.1 571.7Z" fill="#fffc00" opacity="0.97" filter="url(#b3)"/><path d="M454.8 572.5 L455.9 574.6 L457.4 577.4 L459.3 580.9 L461.4 584.6 L463.5 588.4 L465.5 592.1 L467.4 595.8 L469.5 599.6 L471.5 603.5 L473.6 607.4 L475.7 611.4 L477.7 615.2 L479.3 619.4 L480.8 623.5 L482.3 627.7 L483.8 631.8 L485.4 636.0 L486.9 640.1 L487.4 644.8 L487.8 649.4 L488.2 653.9 L488.7 658.6 L489.3 663.4 L490.0 668.5 L490.6 674.6 L491.5 681.4 L492.5 688.4 L493.4 695.0 L493.8 700.8 L493.4 705.4 L550.5 672.4 L546.4 670.4 L541.6 667.2 L536.3 663.1 L530.7 658.7 L525.3 654.5 L520.3 651.0 L516.3 647.8 L512.4 644.9 L508.6 642.2 L504.8 639.5 L501.1 636.9 L497.3 634.1 L494.5 630.7 L491.6 627.3 L488.8 623.9 L486.0 620.5 L483.2 617.1 L480.3 613.7 L478.0 610.0 L475.6 606.2 L473.2 602.5 L470.9 598.7 L468.6 595.1 L466.4 591.6 L464.2 588.0 L462.0 584.3 L459.8 580.6 L457.7 577.3 L456.0 574.5 L454.8 572.5Z" fill="#ffa300" opacity="0.97" filter="url(#b3)"/><path d="M454.8 572.5 L455.9 574.5 L457.6 577.4 L459.5 580.7 L461.7 584.4 L463.8 588.2 L466.0 591.9 L468.0 595.5 L470.0 599.2 L472.2 603.1 L474.3 607.0 L476.5 610.9 L478.6 614.7 L480.5 618.7 L482.4 622.6 L484.3 626.6 L486.2 630.5 L488.0 634.4 L489.9 638.4 L491.1 642.7 L492.1 646.9 L493.2 651.1 L494.3 655.3 L495.6 659.8 L496.9 664.5 L497.9 670.4 L499.3 676.9 L500.7 683.6 L502.0 690.0 L502.9 695.6 L502.9 699.9 L541.0 677.9 L537.3 675.7 L532.9 672.2 L528.0 667.9 L522.9 663.2 L518.0 658.8 L513.4 655.0 L510.0 651.5 L506.7 648.2 L503.6 645.1 L500.5 642.0 L497.4 639.0 L494.3 635.9 L491.8 632.3 L489.3 628.7 L486.9 625.1 L484.4 621.5 L481.9 617.9 L479.5 614.2 L477.2 610.5 L474.9 606.7 L472.6 602.9 L470.3 599.1 L468.1 595.4 L466.0 591.9 L463.8 588.2 L461.7 584.4 L459.5 580.7 L457.6 577.4 L455.9 574.5 L454.8 572.5Z" fill="#ff4e00" opacity="0.97" filter="url(#b3)"/><path d="M452.2 565.8 L454.7 567.0 L457.9 568.1 L461.6 569.0 L465.8 569.8 L470.2 570.4 L474.7 570.9 L478.7 570.1 L482.7 569.3 L486.7 568.4 L490.7 567.5 L494.6 566.6 L498.6 565.7 L502.3 562.5 L506.4 559.0 L510.6 555.5 L514.6 552.1 L517.8 549.0 L519.9 546.4 L513.2 529.7 L509.8 529.2 L505.3 529.2 L500.2 529.5 L494.7 529.9 L489.3 530.3 L484.4 530.5 L480.8 532.7 L477.2 534.9 L473.9 536.9 L470.8 538.9 L467.8 540.8 L465.0 542.5 L462.5 545.2 L459.7 548.0 L456.7 550.7 L454.0 553.3 L451.7 555.7 L450.2 558.0Z" fill="#50b4ff" opacity="0.92" filter="url(#b5)"/><path d="M457.8 570.5 L459.3 572.1 L461.3 574.3 L463.7 576.9 L466.4 579.7 L469.1 582.6 L471.7 585.3 L474.5 587.7 L477.4 590.2 L480.3 592.8 L483.3 595.4 L486.2 598.0 L489.1 600.6 L492.4 603.2 L495.9 606.1 L499.4 609.1 L502.7 611.8 L505.5 614.1 L507.7 615.6 L510.5 612.8 L509.0 610.7 L506.7 607.8 L504.0 604.5 L501.1 601.0 L498.2 597.4 L495.4 594.2 L492.7 591.3 L490.0 588.4 L487.2 585.6 L484.5 582.7 L481.8 580.0 L479.2 577.3 L476.3 574.9 L473.2 572.4 L470.2 569.9 L467.4 567.7 L465.0 565.9 L463.2 564.6Z" fill="#4c84ff" opacity="0.85" filter="url(#b3)"/><path d="M453.1 564.2 L455.5 565.1 L458.6 565.8 L462.3 566.3 L466.3 566.8 L470.5 567.1 L474.6 567.4 L478.2 566.6 L481.9 565.7 L485.5 564.8 L489.0 563.8 L492.4 562.8 L495.8 561.9 L498.8 559.4 L502.1 556.8 L505.2 554.2 L508.0 551.7 L510.4 549.4 L511.9 547.4 L508.5 539.1 L506.0 538.7 L502.8 538.7 L499.0 538.9 L495.0 539.1 L491.0 539.4 L487.2 539.5 L484.1 541.0 L481.0 542.6 L477.9 544.1 L474.8 545.6 L471.8 547.0 L468.9 548.2 L466.1 550.4 L462.9 552.5 L459.7 554.6 L456.6 556.7 L454.1 558.6 L452.3 560.3Z" fill="#5448ec" opacity="0.97" filter="url(#b3)"/><circle cx="447.3" cy="559.5" r="92.4" fill="none" stroke="#103020" stroke-width="0.7" opacity="0.6"/></g><circle cx="447.3" cy="559.5" r="5.6" fill="#ffee20"/><polygon points="545.0,553.5 542.7,556.5 539.7,558.8 536.7,556.5 534.4,553.5 536.7,550.5 539.7,548.2 542.7,550.5" fill="#000"/><polygon points="543.2,553.5 541.7,555.5 539.7,557.0 537.7,555.5 536.2,553.5 537.7,551.5 539.7,550.0 541.7,551.5" fill="#80f080"/>
<g class="ttl"><text x="382.2 409.2 436.2 463.2 490.2 517.2 544.2 571.2 598.2 625.2 652.2 679.2 706.2 733.2 760.2 787.2 814.2" y="58" fill="#ffff50" stroke="#ffff50" font-size="42px" text-anchor="middle" xml:space="preserve">2025-07-27 09:00Z</text></g>
<rect x="37.8" y="128.5" width="13" height="203.0" fill="url(#cb)" stroke="#fff" stroke-width="1.2"/><text x="59.2" y="134.2" font-size="17px" fill="#d8d8d8" stroke="#d8d8d8" textLength="19.9" lengthAdjust="spacingAndGlyphs">60</text><text x="59.2" y="185.2" font-size="17px" fill="#d8d8d8" stroke="#d8d8d8" textLength="19.9" lengthAdjust="spacingAndGlyphs">45</text><text x="59.2" y="236.2" font-size="17px" fill="#d8d8d8" stroke="#d8d8d8" textLength="19.9" lengthAdjust="spacingAndGlyphs">30</text><text x="59.2" y="287.2" font-size="17px" fill="#d8d8d8" stroke="#d8d8d8" textLength="19.9" lengthAdjust="spacingAndGlyphs">15</text><text x="61.3" y="338.2" font-size="17px" fill="#d8d8d8" stroke="#d8d8d8" textLength="10.0" lengthAdjust="spacingAndGlyphs">0</text><text transform="translate(29.3,331.5) rotate(-90)" font-size="16.5px" fill="#e0e0e0" stroke="#e0e0e0" textLength="200.0" lengthAdjust="spacingAndGlyphs">Plasma Density (r<tspan font-size="11px" dy="-6">2</tspan><tspan dy="6">N/cm</tspan><tspan font-size="11px" dy="-6">3</tspan><tspan dy="6">)</tspan></text>
<rect x="37.8" y="458.5" width="13" height="203.0" fill="url(#cb)" stroke="#fff" stroke-width="1.2"/><text x="54.8" y="464.2" font-size="17px" fill="#d8d8d8" stroke="#d8d8d8" textLength="39.9" lengthAdjust="spacingAndGlyphs">1600</text><text x="54.8" y="515.2" font-size="17px" fill="#d8d8d8" stroke="#d8d8d8" textLength="39.9" lengthAdjust="spacingAndGlyphs">1250</text><text x="57.6" y="566.2" font-size="17px" fill="#d8d8d8" stroke="#d8d8d8" textLength="29.9" lengthAdjust="spacingAndGlyphs">900</text><text x="57.6" y="617.2" font-size="17px" fill="#d8d8d8" stroke="#d8d8d8" textLength="29.9" lengthAdjust="spacingAndGlyphs">550</text><text x="57.6" y="668.2" font-size="17px" fill="#d8d8d8" stroke="#d8d8d8" textLength="29.9" lengthAdjust="spacingAndGlyphs">200</text><text transform="translate(29.3,661.5) rotate(-90)" font-size="16.5px" fill="#e0e0e0" stroke="#e0e0e0" textLength="171.2" lengthAdjust="spacingAndGlyphs">Radial Velocity (km/s)</text>
<rect x="52" y="407.5" width="11" height="1.3" fill="#b0b0b0"/>
<path d="M665.4 197.8 L668.7 198.8 L674.1 195.6 L679.5 195.6 L686.0 189.1 L692.5 188.0 L695.8 183.7 L703.3 179.8 L709.8 174.6 L717.4 168.9 L723.9 168.9 L729.3 165.5 L735.8 167.6 L740.2 165.5 L746.7 169.6 L749.9 167.4 L754.2 168.5 L757.5 172.8 L764.0 173.3 L771.6 178.9 L778.1 182.2 L785.7 186.3 L794.3 189.1 L803.0 190.8 L813.8 192.3 L825.8 193.9 L865.8 194.1 L869.1 195.4 L920.0 195.4 L934.1 195.4 L935.2 194.1 L950.3 194.1 L952.5 192.8 L954.7 194.1 L961.2 194.1 L964.4 191.7 L967.7 192.8 L973.1 192.3 L976.3 190.8 L989.3 190.6 L991.5 189.1 L1004.5 189.1 L1006.7 188.0 L1019.7 187.6 L1021.8 186.9 L1037.0 186.9 L1041.3 187.6 L1050.0 186.9 L1056.5 185.4 L1060.8 183.7 L1065.2 182.6 L1069.5 184.1 L1074.9 186.5 L1080.3 186.5 L1082.1 179.3 L1084.7 170.7 L1086.8 165.2 L1093.3 158.8 L1099.8 149.0 L1103.1 146.4 L1107.4 146.4 L1110.7 149.0 L1117.2 158.8 L1123.7 170.7 L1129.1 177.2 L1134.5 180.4 L1145.3 185.4 L1154.0 189.7 L1160.5 192.8 L1167.0 194.1 L1174.6 194.1" fill="none" stroke="#a0f4a0" stroke-width="1.4" stroke-linejoin="round"/>
<rect x="665.5" y="114.5" width="510.0" height="112.0" fill="none" stroke="#e8e8e8" stroke-width="1.2"/>
<path d="M665.5 136.5 h7.5 M1175.5 136.5 h-7.5 M665.5 159.5 h7.5 M1175.5 159.5 h-7.5 M665.5 181.5 h7.5 M1175.5 181.5 h-7.5 M665.5 204.5 h7.5 M1175.5 204.5 h-7.5 M693.5 226.5 v-7 M766.5 226.5 v-7 M839.5 226.5 v-7 M912.5 226.5 v-7 M984.5 226.5 v-7 M1057.5 226.5 v-7 M1130.5 226.5 v-7 " stroke="#e8e8e8" stroke-width="1.2" fill="none"/>
<text x="653.3" y="120.7" font-size="17px" fill="#d8d8d8" stroke="#d8d8d8" text-anchor="end" textLength="19.9" lengthAdjust="spacingAndGlyphs">10</text>
<text x="653.3" y="165.5" font-size="17px" fill="#d8d8d8" stroke="#d8d8d8" text-anchor="end" textLength="10.0" lengthAdjust="spacingAndGlyphs">6</text>
<text x="653.3" y="210.3" font-size="17px" fill="#d8d8d8" stroke="#d8d8d8" text-anchor="end" textLength="10.0" lengthAdjust="spacingAndGlyphs">2</text>
<text x="679.5" y="135.3" font-size="17px" fill="#d8d8d8" stroke="#d8d8d8">EARTH</text>
<path d="M665.4 306.9 L673.0 303.4 L681.7 300.4 L692.5 296.1 L703.3 291.7 L712.0 290.4 L720.7 290.0 L723.9 289.1 L727.2 290.2 L735.8 290.4 L742.3 291.7 L751.0 296.1 L757.5 300.4 L764.0 302.6 L766.2 305.2 L771.6 306.2 L777.0 310.6 L783.5 313.4 L790.0 316.0 L798.7 318.2 L805.2 320.3 L813.8 322.5 L824.7 323.6 L833.3 324.2 L839.8 324.7 L843.1 325.5 L846.3 324.2 L852.8 324.7 L855.0 325.5 L858.2 323.8 L863.7 324.7 L865.8 325.5 L868.0 322.9 L876.7 322.9 L878.8 322.1 L883.2 322.1 L885.3 319.2 L889.7 317.1 L896.2 316.4 L898.3 313.4 L901.6 310.6 L907.0 308.4 L911.3 304.1 L916.8 299.8 L920.0 298.2 L926.5 293.2 L933.0 288.3 L941.7 283.5 L948.2 282.0 L952.5 282.4 L955.8 279.2 L960.1 279.6 L964.4 284.6 L967.7 281.3 L972.0 282.4 L975.2 287.8 L978.5 286.8 L982.8 290.0 L987.2 291.1 L992.6 295.4 L996.9 299.8 L1001.2 306.2 L1006.7 308.4 L1013.2 311.7 L1021.8 314.3 L1030.5 316.4 L1037.0 318.6 L1041.3 317.7 L1045.7 319.2 L1052.2 318.6 L1058.7 320.3 L1063.0 319.5 L1065.2 320.6 L1099.8 320.6 L1102.0 319.2 L1106.3 320.3 L1112.8 320.6 L1115.0 319.5 L1123.7 319.5 L1125.8 320.6 L1131.2 318.6 L1136.7 318.6 L1138.8 319.5 L1143.2 319.2 L1146.4 316.6 L1149.7 318.6 L1154.0 319.5 L1158.3 318.6 L1164.8 316.4 L1169.2 317.7 L1172.4 317.1 L1175.0 315.6" fill="none" stroke="#f68c9a" stroke-width="1.4" stroke-linejoin="round"/>
<rect x="665.5" y="242.5" width="510.0" height="112.0" fill="none" stroke="#e8e8e8" stroke-width="1.2"/>
<path d="M665.5 264.5 h7.5 M1175.5 264.5 h-7.5 M665.5 286.5 h7.5 M1175.5 286.5 h-7.5 M665.5 309.5 h7.5 M1175.5 309.5 h-7.5 M665.5 331.5 h7.5 M1175.5 331.5 h-7.5 M693.5 354.5 v-7 M766.5 354.5 v-7 M839.5 354.5 v-7 M912.5 354.5 v-7 M984.5 354.5 v-7 M1057.5 354.5 v-7 M1130.5 354.5 v-7 " stroke="#e8e8e8" stroke-width="1.2" fill="none"/>
<text x="653.3" y="248.2" font-size="17px" fill="#d8d8d8" stroke="#d8d8d8" text-anchor="end" textLength="19.9" lengthAdjust="spacingAndGlyphs">10</text>
<text x="653.3" y="293.0" font-size="17px" fill="#d8d8d8" stroke="#d8d8d8" text-anchor="end" textLength="10.0" lengthAdjust="spacingAndGlyphs">6</text>
<text x="653.3" y="337.8" font-size="17px" fill="#d8d8d8" stroke="#d8d8d8" text-anchor="end" textLength="10.0" lengthAdjust="spacingAndGlyphs">2</text>
<text x="679.5" y="262.8" font-size="17px" fill="#d8d8d8" stroke="#d8d8d8">STEREO A</text>
<path d="M665.4 501.9 L670.8 508.4 L677.3 513.4 L684.9 517.1 L692.5 519.2 L703.3 519.5 L712.0 519.0 L718.5 516.4 L727.2 513.2 L735.8 509.5 L744.5 503.4 L753.2 495.4 L759.7 487.4 L766.2 479.2 L771.6 474.4 L775.9 472.2 L783.5 471.1 L790.0 471.6 L792.2 472.7 L811.7 472.7 L814.9 471.6 L831.2 471.6 L833.3 472.7 L848.5 472.7 L852.8 474.2 L861.5 475.3 L872.3 477.0 L883.2 478.7 L894.0 480.7 L904.8 483.1 L915.7 486.3 L920.0 487.0 L928.7 490.6 L937.3 493.9 L946.0 496.5 L954.7 501.5 L963.3 505.8 L972.0 509.5 L980.7 512.8 L991.5 516.0 L1002.3 519.2 L1013.2 521.0 L1026.2 522.5 L1037.0 524.0 L1052.2 524.0 L1058.7 522.5 L1067.3 519.2 L1074.9 519.2 L1078.2 520.3 L1082.5 518.6 L1085.1 516.6 L1093.3 517.3 L1099.8 518.6 L1108.5 519.2 L1115.0 521.4 L1123.7 523.1 L1132.3 525.8 L1141.0 527.9 L1149.7 530.1 L1158.3 531.2 L1167.0 532.7 L1175.0 532.7" fill="none" stroke="#a0f4a0" stroke-width="1.4" stroke-linejoin="round"/>
<rect x="665.5" y="443.5" width="510.0" height="113.0" fill="none" stroke="#e8e8e8" stroke-width="1.2"/>
<path d="M665.5 461.5 h7.5 M1175.5 461.5 h-7.5 M665.5 480.5 h7.5 M1175.5 480.5 h-7.5 M665.5 499.5 h7.5 M1175.5 499.5 h-7.5 M665.5 518.5 h7.5 M1175.5 518.5 h-7.5 M665.5 537.5 h7.5 M1175.5 537.5 h-7.5 M693.5 556.5 v-7 M766.5 556.5 v-7 M839.5 556.5 v-7 M912.5 556.5 v-7 M984.5 556.5 v-7 M1057.5 556.5 v-7 M1130.5 556.5 v-7 " stroke="#e8e8e8" stroke-width="1.2" fill="none"/>
<text x="653.3" y="468.0" font-size="17px" fill="#d8d8d8" stroke="#d8d8d8" text-anchor="end" textLength="29.9" lengthAdjust="spacingAndGlyphs">550</text>
<text x="653.3" y="505.6" font-size="17px" fill="#d8d8d8" stroke="#d8d8d8" text-anchor="end" textLength="29.9" lengthAdjust="spacingAndGlyphs">450</text>
<text x="653.3" y="543.2" font-size="17px" fill="#d8d8d8" stroke="#d8d8d8" text-anchor="end" textLength="29.9" lengthAdjust="spacingAndGlyphs">350</text>
<text x="679.5" y="464.1" font-size="17px" fill="#d8d8d8" stroke="#d8d8d8">EARTH</text>
<path d="M665.4 640.2 L675.2 643.0 L686.0 645.8 L694.7 646.9 L705.5 646.9 L716.3 645.2 L727.2 642.6 L735.8 639.8 L744.5 634.3 L753.2 626.8 L759.7 620.2 L766.2 613.8 L774.8 606.2 L783.5 601.4 L792.2 599.0 L811.7 599.0 L820.3 601.4 L831.2 604.6 L842.0 609.0 L852.8 615.3 L863.7 620.9 L874.5 628.3 L885.3 636.5 L896.2 643.4 L907.0 647.8 L915.7 650.1 L920.0 650.6 L930.8 650.4 L941.7 647.8 L952.5 644.1 L963.3 637.6 L972.0 628.9 L978.5 619.2 L985.0 609.4 L991.5 599.7 L995.8 595.3 L1000.2 591.0 L1006.7 590.6 L1011.0 593.6 L1021.8 595.3 L1037.0 596.4 L1043.5 595.8 L1058.7 597.1 L1071.7 599.7 L1085.1 602.5 L1093.3 605.1 L1104.2 607.7 L1115.0 611.1 L1125.8 614.4 L1136.7 618.1 L1147.5 621.8 L1158.3 625.7 L1167.0 630.0 L1175.0 633.9" fill="none" stroke="#f68c9a" stroke-width="1.4" stroke-linejoin="round"/>
<rect x="665.5" y="570.5" width="510.0" height="113.0" fill="none" stroke="#e8e8e8" stroke-width="1.2"/>
<path d="M665.5 589.5 h7.5 M1175.5 589.5 h-7.5 M665.5 608.5 h7.5 M1175.5 608.5 h-7.5 M665.5 626.5 h7.5 M1175.5 626.5 h-7.5 M665.5 645.5 h7.5 M1175.5 645.5 h-7.5 M665.5 664.5 h7.5 M1175.5 664.5 h-7.5 M693.5 683.5 v-7 M766.5 683.5 v-7 M839.5 683.5 v-7 M912.5 683.5 v-7 M984.5 683.5 v-7 M1057.5 683.5 v-7 M1130.5 683.5 v-7 " stroke="#e8e8e8" stroke-width="1.2" fill="none"/>
<text x="653.3" y="595.5" font-size="17px" fill="#d8d8d8" stroke="#d8d8d8" text-anchor="end" textLength="29.9" lengthAdjust="spacingAndGlyphs">550</text>
<text x="653.3" y="633.1" font-size="17px" fill="#d8d8d8" stroke="#d8d8d8" text-anchor="end" textLength="29.9" lengthAdjust="spacingAndGlyphs">450</text>
<text x="653.3" y="670.7" font-size="17px" fill="#d8d8d8" stroke="#d8d8d8" text-anchor="end" textLength="29.9" lengthAdjust="spacingAndGlyphs">350</text>
<text x="679.5" y="591.6" font-size="17px" fill="#d8d8d8" stroke="#d8d8d8">STEREO A</text>
<text x="693.3" y="374.3" font-size="17px" fill="#d8d8d8" stroke="#d8d8d8" text-anchor="middle" textLength="19.9" lengthAdjust="spacingAndGlyphs">22</text>
<text x="766.2" y="374.3" font-size="17px" fill="#d8d8d8" stroke="#d8d8d8" text-anchor="middle" textLength="19.9" lengthAdjust="spacingAndGlyphs">23</text>
<text x="839.1" y="374.3" font-size="17px" fill="#d8d8d8" stroke="#d8d8d8" text-anchor="middle" textLength="19.9" lengthAdjust="spacingAndGlyphs">24</text>
<text x="912.0" y="374.3" font-size="17px" fill="#d8d8d8" stroke="#d8d8d8" text-anchor="middle" textLength="19.9" lengthAdjust="spacingAndGlyphs">25</text>
<text x="984.9" y="374.3" font-size="17px" fill="#d8d8d8" stroke="#d8d8d8" text-anchor="middle" textLength="19.9" lengthAdjust="spacingAndGlyphs">26</text>
<text x="1057.8" y="374.3" font-size="17px" fill="#d8d8d8" stroke="#d8d8d8" text-anchor="middle" textLength="19.9" lengthAdjust="spacingAndGlyphs">27</text>
<text x="1130.7" y="374.3" font-size="17px" fill="#d8d8d8" stroke="#d8d8d8" text-anchor="middle" textLength="19.9" lengthAdjust="spacingAndGlyphs">28</text>
<text x="693.3" y="703.3" font-size="17px" fill="#d8d8d8" stroke="#d8d8d8" text-anchor="middle" textLength="19.9" lengthAdjust="spacingAndGlyphs">22</text>
<text x="766.2" y="703.3" font-size="17px" fill="#d8d8d8" stroke="#d8d8d8" text-anchor="middle" textLength="19.9" lengthAdjust="spacingAndGlyphs">23</text>
<text x="839.1" y="703.3" font-size="17px" fill="#d8d8d8" stroke="#d8d8d8" text-anchor="middle" textLength="19.9" lengthAdjust="spacingAndGlyphs">24</text>
<text x="912.0" y="703.3" font-size="17px" fill="#d8d8d8" stroke="#d8d8d8" text-anchor="middle" textLength="19.9" lengthAdjust="spacingAndGlyphs">25</text>
<text x="984.9" y="703.3" font-size="17px" fill="#d8d8d8" stroke="#d8d8d8" text-anchor="middle" textLength="19.9" lengthAdjust="spacingAndGlyphs">26</text>
<text x="1057.8" y="703.3" font-size="17px" fill="#d8d8d8" stroke="#d8d8d8" text-anchor="middle" textLength="19.9" lengthAdjust="spacingAndGlyphs">27</text>
<text x="1130.7" y="703.3" font-size="17px" fill="#d8d8d8" stroke="#d8d8d8" text-anchor="middle" textLength="19.9" lengthAdjust="spacingAndGlyphs">28</text>
<text x="833.8" y="103.5" font-size="16.5px" fill="#d0d0d0" stroke="#d0d0d0" textLength="176.2" lengthAdjust="spacingAndGlyphs">Plasma Density (/cm<tspan font-size="11px" dy="-6.5">3</tspan><tspan dy="6.5">)</tspan></text>
<text x="833.8" y="432.5" font-size="16.5px" fill="#d0d0d0" stroke="#d0d0d0" textLength="172.2" lengthAdjust="spacingAndGlyphs">Radial Velocity (km/s)</text>
<rect x="1083.9" y="111.5" width="2.6" height="244.5" fill="#ffff78"/>
<rect x="1083.9" y="441" width="2.6" height="244.5" fill="#ffff78"/>
<rect x="1082.7" y="167.2" width="5" height="7" rx="1.5" fill="#ffee20"/>
<rect x="1082.7" y="316.8" width="5" height="7" rx="1.5" fill="#ffee20"/>
<rect x="1082.7" y="513.2" width="5" height="7" rx="1.5" fill="#ffee20"/>
<rect x="1082.7" y="599.0" width="5" height="7" rx="1.5" fill="#ffee20"/>
<g font-size="17.5px" fill="#dcdcdc" stroke="#dcdcdc" lengthAdjust="spacingAndGlyphs">
<text x="4.5" y="745" textLength="267.5" lengthAdjust="spacingAndGlyphs">Space Weather Prediction Center</text>
<text x="468.6" y="745" textLength="348.4" lengthAdjust="spacingAndGlyphs" xml:space="preserve">Run Time: 2025-07-23 15:00Z  Mode: CME</text>
<text x="910" y="745" textLength="286.8" lengthAdjust="spacingAndGlyphs">Image Created: 2025-07-23 16:58Z</text>
</g>
</svg></body></html>
